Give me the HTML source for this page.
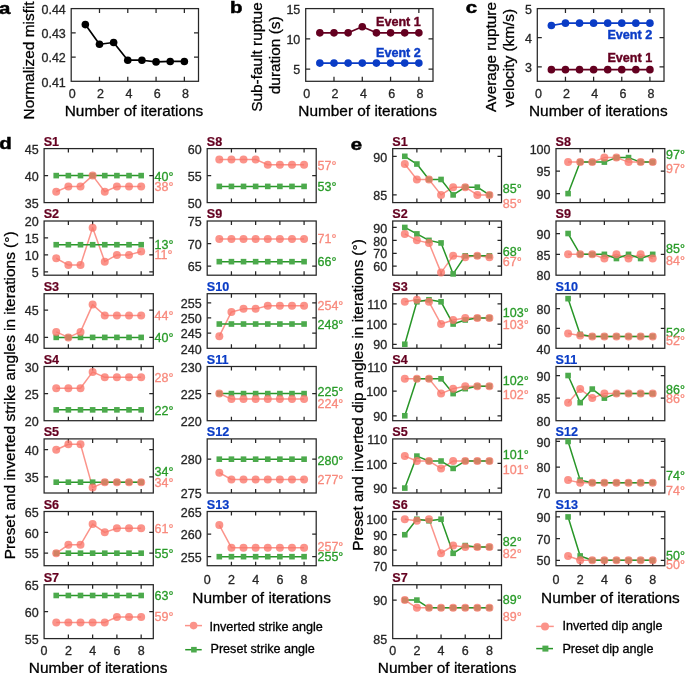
<!DOCTYPE html><html><head><meta charset="utf-8"><style>html,body{margin:0;padding:0;background:#fff;overflow:hidden}svg{display:block;will-change:transform}</style></head><body>
<svg width="685" height="673" viewBox="0 0 685 673" font-family='"Liberation Sans", sans-serif'>
<rect width="685" height="673" fill="#fff"/>
<text transform="translate(-1.1 13.75) scale(1.2 1)" x="0" y="0" font-size="17" font-weight="bold" fill="#000" stroke="#000" stroke-width="0.5">a</text>
<path d="M99.49 81.3V76.8M99.49 8.6V13.1M127.78 81.3V76.8M127.78 8.6V13.1M156.07 81.3V76.8M156.07 8.6V13.1M184.36 81.3V76.8M184.36 8.6V13.1M71.2 57.07H75.7M198.5 57.07H194M71.2 32.83H75.7M198.5 32.83H194" stroke="#262626" stroke-width="1.25" fill="none"/>
<rect x="71.2" y="8.6" width="127.3" height="72.7" stroke="#262626" stroke-width="1.25" fill="none"/>
<text x="65.8" y="86.6" font-size="12.5" text-anchor="end" fill="#262626" stroke="#262626" stroke-width="0.3">0.41</text>
<text x="65.8" y="62.37" font-size="12.5" text-anchor="end" fill="#262626" stroke="#262626" stroke-width="0.3">0.42</text>
<text x="65.8" y="38.13" font-size="12.5" text-anchor="end" fill="#262626" stroke="#262626" stroke-width="0.3">0.43</text>
<text x="65.8" y="13.9" font-size="12.5" text-anchor="end" fill="#262626" stroke="#262626" stroke-width="0.3">0.44</text>
<text x="72.3" y="97.9" font-size="12.5" text-anchor="middle" fill="#262626" stroke="#262626" stroke-width="0.3">0</text>
<text x="100.59" y="97.9" font-size="12.5" text-anchor="middle" fill="#262626" stroke="#262626" stroke-width="0.3">2</text>
<text x="128.88" y="97.9" font-size="12.5" text-anchor="middle" fill="#262626" stroke="#262626" stroke-width="0.3">4</text>
<text x="157.17" y="97.9" font-size="12.5" text-anchor="middle" fill="#262626" stroke="#262626" stroke-width="0.3">6</text>
<text x="185.46" y="97.9" font-size="12.5" text-anchor="middle" fill="#262626" stroke="#262626" stroke-width="0.3">8</text>
<g>
<polyline points="85.34,24.59 99.49,44.22 113.63,42.53 127.78,60.22 141.92,60.22 156.07,61.91 170.21,61.43 184.36,61.43" stroke="#000" stroke-width="1.7" fill="none" stroke-linejoin="round"/>
<circle cx="85.34" cy="24.59" r="3.8" fill="#000"/>
<circle cx="99.49" cy="44.22" r="3.8" fill="#000"/>
<circle cx="113.63" cy="42.53" r="3.8" fill="#000"/>
<circle cx="127.78" cy="60.22" r="3.8" fill="#000"/>
<circle cx="141.92" cy="60.22" r="3.8" fill="#000"/>
<circle cx="156.07" cy="61.91" r="3.8" fill="#000"/>
<circle cx="170.21" cy="61.43" r="3.8" fill="#000"/>
<circle cx="184.36" cy="61.43" r="3.8" fill="#000"/>
</g>
<text x="134" y="115.5" font-size="15.4" text-anchor="middle" fill="#000" stroke="#000" stroke-width="0.3">Number of iterations</text>
<text x="33.8" y="60.4" font-size="15.4" text-anchor="middle" fill="#000" stroke="#000" stroke-width="0.3" transform="rotate(-90 33.8 60.4)">Normalized misfit</text>
<text transform="translate(230.1 12.95) scale(1.2 1)" x="0" y="0" font-size="17" font-weight="bold" fill="#000" stroke="#000" stroke-width="0.5">b</text>
<path d="M333.99 81.3V76.8M333.99 8.6V13.1M362.28 81.3V76.8M362.28 8.6V13.1M390.57 81.3V76.8M390.57 8.6V13.1M418.86 81.3V76.8M418.86 8.6V13.1M305.7 69.18H310.2M433 69.18H428.5M305.7 38.89H310.2M433 38.89H428.5" stroke="#262626" stroke-width="1.25" fill="none"/>
<rect x="305.7" y="8.6" width="127.3" height="72.7" stroke="#262626" stroke-width="1.25" fill="none"/>
<text x="300.3" y="74.48" font-size="12.5" text-anchor="end" fill="#262626" stroke="#262626" stroke-width="0.3">5</text>
<text x="300.3" y="44.19" font-size="12.5" text-anchor="end" fill="#262626" stroke="#262626" stroke-width="0.3">10</text>
<text x="300.3" y="13.9" font-size="12.5" text-anchor="end" fill="#262626" stroke="#262626" stroke-width="0.3">15</text>
<text x="306.8" y="97.9" font-size="12.5" text-anchor="middle" fill="#262626" stroke="#262626" stroke-width="0.3">0</text>
<text x="335.09" y="97.9" font-size="12.5" text-anchor="middle" fill="#262626" stroke="#262626" stroke-width="0.3">2</text>
<text x="363.38" y="97.9" font-size="12.5" text-anchor="middle" fill="#262626" stroke="#262626" stroke-width="0.3">4</text>
<text x="391.67" y="97.9" font-size="12.5" text-anchor="middle" fill="#262626" stroke="#262626" stroke-width="0.3">6</text>
<text x="419.96" y="97.9" font-size="12.5" text-anchor="middle" fill="#262626" stroke="#262626" stroke-width="0.3">8</text>
<g>
<polyline points="319.84,32.83 333.99,32.83 348.13,32.83 362.28,26.77 376.42,32.83 390.57,32.83 404.71,32.83 418.86,32.83" stroke="#640020" stroke-width="1.7" fill="none" stroke-linejoin="round"/>
<circle cx="319.84" cy="32.83" r="3.8" fill="#640020"/>
<circle cx="333.99" cy="32.83" r="3.8" fill="#640020"/>
<circle cx="348.13" cy="32.83" r="3.8" fill="#640020"/>
<circle cx="362.28" cy="26.77" r="3.8" fill="#640020"/>
<circle cx="376.42" cy="32.83" r="3.8" fill="#640020"/>
<circle cx="390.57" cy="32.83" r="3.8" fill="#640020"/>
<circle cx="404.71" cy="32.83" r="3.8" fill="#640020"/>
<circle cx="418.86" cy="32.83" r="3.8" fill="#640020"/>
</g>
<g>
<polyline points="319.84,63.12 333.99,63.12 348.13,63.12 362.28,63.12 376.42,63.12 390.57,63.12 404.71,63.12 418.86,63.12" stroke="#0a3cc6" stroke-width="1.7" fill="none" stroke-linejoin="round"/>
<circle cx="319.84" cy="63.12" r="3.8" fill="#0a3cc6"/>
<circle cx="333.99" cy="63.12" r="3.8" fill="#0a3cc6"/>
<circle cx="348.13" cy="63.12" r="3.8" fill="#0a3cc6"/>
<circle cx="362.28" cy="63.12" r="3.8" fill="#0a3cc6"/>
<circle cx="376.42" cy="63.12" r="3.8" fill="#0a3cc6"/>
<circle cx="390.57" cy="63.12" r="3.8" fill="#0a3cc6"/>
<circle cx="404.71" cy="63.12" r="3.8" fill="#0a3cc6"/>
<circle cx="418.86" cy="63.12" r="3.8" fill="#0a3cc6"/>
</g>
<text x="376" y="25.9" font-size="12.6" text-anchor="start" fill="#640020" font-weight="bold" stroke="#640020" stroke-width="0.4">Event 1</text>
<text x="376" y="56.8" font-size="12.6" text-anchor="start" fill="#0a3cc6" font-weight="bold" stroke="#0a3cc6" stroke-width="0.4">Event 2</text>
<text x="367.6" y="115.5" font-size="15.4" text-anchor="middle" fill="#000" stroke="#000" stroke-width="0.3">Number of iterations</text>
<text x="261.6" y="57" font-size="15.4" text-anchor="middle" fill="#000" stroke="#000" stroke-width="0.3" transform="rotate(-90 261.6 57)">Sub-fault ruptue</text>
<text x="279.6" y="55.3" font-size="15.4" text-anchor="middle" fill="#000" stroke="#000" stroke-width="0.3" transform="rotate(-90 279.6 55.3)">duration (s)</text>
<text transform="translate(465.8 12.95) scale(1.2 1)" x="0" y="0" font-size="17" font-weight="bold" fill="#000" stroke="#000" stroke-width="0.5">c</text>
<path d="M565.46 81.3V76.8M565.46 8.6V13.1M593.61 81.3V76.8M593.61 8.6V13.1M621.77 81.3V76.8M621.77 8.6V13.1M649.92 81.3V76.8M649.92 8.6V13.1M537.3 66.76H541.8M664 66.76H659.5M537.3 37.68H541.8M664 37.68H659.5" stroke="#262626" stroke-width="1.25" fill="none"/>
<rect x="537.3" y="8.6" width="126.7" height="72.7" stroke="#262626" stroke-width="1.25" fill="none"/>
<text x="531.9" y="72.06" font-size="12.5" text-anchor="end" fill="#262626" stroke="#262626" stroke-width="0.3">3</text>
<text x="531.9" y="42.98" font-size="12.5" text-anchor="end" fill="#262626" stroke="#262626" stroke-width="0.3">4</text>
<text x="531.9" y="13.9" font-size="12.5" text-anchor="end" fill="#262626" stroke="#262626" stroke-width="0.3">5</text>
<text x="538.4" y="97.9" font-size="12.5" text-anchor="middle" fill="#262626" stroke="#262626" stroke-width="0.3">0</text>
<text x="566.56" y="97.9" font-size="12.5" text-anchor="middle" fill="#262626" stroke="#262626" stroke-width="0.3">2</text>
<text x="594.71" y="97.9" font-size="12.5" text-anchor="middle" fill="#262626" stroke="#262626" stroke-width="0.3">4</text>
<text x="622.87" y="97.9" font-size="12.5" text-anchor="middle" fill="#262626" stroke="#262626" stroke-width="0.3">6</text>
<text x="651.02" y="97.9" font-size="12.5" text-anchor="middle" fill="#262626" stroke="#262626" stroke-width="0.3">8</text>
<g>
<polyline points="551.38,25.47 565.46,23.14 579.53,23.14 593.61,23.14 607.69,23.14 621.77,23.14 635.84,23.14 649.92,23.14" stroke="#0a3cc6" stroke-width="1.7" fill="none" stroke-linejoin="round"/>
<circle cx="551.38" cy="25.47" r="3.8" fill="#0a3cc6"/>
<circle cx="565.46" cy="23.14" r="3.8" fill="#0a3cc6"/>
<circle cx="579.53" cy="23.14" r="3.8" fill="#0a3cc6"/>
<circle cx="593.61" cy="23.14" r="3.8" fill="#0a3cc6"/>
<circle cx="607.69" cy="23.14" r="3.8" fill="#0a3cc6"/>
<circle cx="621.77" cy="23.14" r="3.8" fill="#0a3cc6"/>
<circle cx="635.84" cy="23.14" r="3.8" fill="#0a3cc6"/>
<circle cx="649.92" cy="23.14" r="3.8" fill="#0a3cc6"/>
</g>
<g>
<polyline points="551.38,69.67 565.46,69.67 579.53,69.67 593.61,69.67 607.69,69.67 621.77,69.67 635.84,69.67 649.92,69.67" stroke="#640020" stroke-width="1.7" fill="none" stroke-linejoin="round"/>
<circle cx="551.38" cy="69.67" r="3.8" fill="#640020"/>
<circle cx="565.46" cy="69.67" r="3.8" fill="#640020"/>
<circle cx="579.53" cy="69.67" r="3.8" fill="#640020"/>
<circle cx="593.61" cy="69.67" r="3.8" fill="#640020"/>
<circle cx="607.69" cy="69.67" r="3.8" fill="#640020"/>
<circle cx="621.77" cy="69.67" r="3.8" fill="#640020"/>
<circle cx="635.84" cy="69.67" r="3.8" fill="#640020"/>
<circle cx="649.92" cy="69.67" r="3.8" fill="#640020"/>
</g>
<text x="607.4" y="39.4" font-size="12.6" text-anchor="start" fill="#0a3cc6" font-weight="bold" stroke="#0a3cc6" stroke-width="0.4">Event 2</text>
<text x="607.4" y="62" font-size="12.6" text-anchor="start" fill="#640020" font-weight="bold" stroke="#640020" stroke-width="0.4">Event 1</text>
<text x="598.3" y="115.5" font-size="15.4" text-anchor="middle" fill="#000" stroke="#000" stroke-width="0.3">Number of iterations</text>
<text x="496.3" y="57" font-size="15.4" text-anchor="middle" fill="#000" stroke="#000" stroke-width="0.3" transform="rotate(-90 496.3 57)">Average rupture</text>
<text x="513.9" y="58" font-size="15.4" text-anchor="middle" fill="#000" stroke="#000" stroke-width="0.3" transform="rotate(-90 513.9 58)">velocity (km/s)</text>
<text transform="translate(-0.8 148.85) scale(1.2 1)" x="0" y="0" font-size="17" font-weight="bold" fill="#000" stroke="#000" stroke-width="0.5">d</text>
<text transform="translate(350.8 149.5) scale(1.2 1)" x="0" y="0" font-size="17" font-weight="bold" fill="#000" stroke="#000" stroke-width="0.5">e</text>
<text x="43.7" y="145.6" font-size="12.6" text-anchor="start" fill="#640020" font-weight="bold" stroke="#640020" stroke-width="0.2">S1</text>
<path d="M68.37 202.6V198.6M68.37 148.6V152.6M92.63 202.6V198.6M92.63 148.6V152.6M116.9 202.6V198.6M116.9 148.6V152.6M141.17 202.6V198.6M141.17 148.6V152.6M44.1 175.6H48.1M153.3 175.6H149.3" stroke="#262626" stroke-width="1.25" fill="none"/>
<rect x="44.1" y="148.6" width="109.2" height="54" stroke="#262626" stroke-width="1.25" fill="none"/>
<text x="38.6" y="207.8" font-size="12.5" text-anchor="end" fill="#262626" stroke="#262626" stroke-width="0.3">35</text>
<text x="38.6" y="180.8" font-size="12.5" text-anchor="end" fill="#262626" stroke="#262626" stroke-width="0.3">40</text>
<text x="38.6" y="153.8" font-size="12.5" text-anchor="end" fill="#262626" stroke="#262626" stroke-width="0.3">45</text>
<polyline points="56.23,191.8 68.37,186.4 80.5,186.4 92.63,175.6 104.77,191.8 116.9,186.4 129.03,186.4 141.17,186.4" stroke="rgb(250,118,106)" stroke-width="1.5" fill="none" stroke-linejoin="round" opacity="0.78"/>
<polyline points="56.23,175.6 68.37,175.6 80.5,175.6 92.63,175.6 104.77,175.6 116.9,175.6 129.03,175.6 141.17,175.6" stroke="rgb(40,150,40)" stroke-width="1.5" fill="none" stroke-linejoin="round"/>
<rect x="53.43" y="172.8" width="5.6" height="5.6" fill="rgb(76,170,76)"/>
<rect x="65.57" y="172.8" width="5.6" height="5.6" fill="rgb(76,170,76)"/>
<rect x="77.7" y="172.8" width="5.6" height="5.6" fill="rgb(76,170,76)"/>
<rect x="89.83" y="172.8" width="5.6" height="5.6" fill="rgb(76,170,76)"/>
<rect x="101.97" y="172.8" width="5.6" height="5.6" fill="rgb(76,170,76)"/>
<rect x="114.1" y="172.8" width="5.6" height="5.6" fill="rgb(76,170,76)"/>
<rect x="126.23" y="172.8" width="5.6" height="5.6" fill="rgb(76,170,76)"/>
<rect x="138.37" y="172.8" width="5.6" height="5.6" fill="rgb(76,170,76)"/>
<g opacity="0.78">
<circle cx="56.23" cy="191.8" r="4" fill="rgb(250,118,106)"/>
<circle cx="68.37" cy="186.4" r="4" fill="rgb(250,118,106)"/>
<circle cx="80.5" cy="186.4" r="4" fill="rgb(250,118,106)"/>
<circle cx="92.63" cy="175.6" r="4" fill="rgb(250,118,106)"/>
<circle cx="104.77" cy="191.8" r="4" fill="rgb(250,118,106)"/>
<circle cx="116.9" cy="186.4" r="4" fill="rgb(250,118,106)"/>
<circle cx="129.03" cy="186.4" r="4" fill="rgb(250,118,106)"/>
<circle cx="141.17" cy="186.4" r="4" fill="rgb(250,118,106)"/>
</g>
<text x="154.6" y="180.8" font-size="12.5" text-anchor="start" fill="rgb(40,155,40)" stroke="rgb(40,155,40)" stroke-width="0.3">40°</text>
<text x="154.6" y="191.3" font-size="12.5" text-anchor="start" fill="rgb(248,138,125)" stroke="rgb(248,138,125)" stroke-width="0.3">38°</text>
<text x="43.7" y="218" font-size="12.6" text-anchor="start" fill="#640020" font-weight="bold" stroke="#640020" stroke-width="0.2">S2</text>
<path d="M68.37 275.2V271.2M68.37 221V225M92.63 275.2V271.2M92.63 221V225M116.9 275.2V271.2M116.9 221V225M141.17 275.2V271.2M141.17 221V225M44.1 271.81H48.1M153.3 271.81H149.3M44.1 254.88H48.1M153.3 254.88H149.3M44.1 237.94H48.1M153.3 237.94H149.3" stroke="#262626" stroke-width="1.25" fill="none"/>
<rect x="44.1" y="221" width="109.2" height="54.2" stroke="#262626" stroke-width="1.25" fill="none"/>
<text x="38.6" y="277.01" font-size="12.5" text-anchor="end" fill="#262626" stroke="#262626" stroke-width="0.3">5</text>
<text x="38.6" y="260.07" font-size="12.5" text-anchor="end" fill="#262626" stroke="#262626" stroke-width="0.3">10</text>
<text x="38.6" y="243.14" font-size="12.5" text-anchor="end" fill="#262626" stroke="#262626" stroke-width="0.3">15</text>
<text x="38.6" y="226.2" font-size="12.5" text-anchor="end" fill="#262626" stroke="#262626" stroke-width="0.3">20</text>
<polyline points="56.23,258.26 68.37,265.04 80.5,265.04 92.63,227.78 104.77,261.65 116.9,254.88 129.03,254.88 141.17,251.49" stroke="rgb(250,118,106)" stroke-width="1.5" fill="none" stroke-linejoin="round" opacity="0.78"/>
<polyline points="56.23,244.71 68.37,244.71 80.5,244.71 92.63,244.71 104.77,244.71 116.9,244.71 129.03,244.71 141.17,244.71" stroke="rgb(40,150,40)" stroke-width="1.5" fill="none" stroke-linejoin="round"/>
<rect x="53.43" y="241.91" width="5.6" height="5.6" fill="rgb(76,170,76)"/>
<rect x="65.57" y="241.91" width="5.6" height="5.6" fill="rgb(76,170,76)"/>
<rect x="77.7" y="241.91" width="5.6" height="5.6" fill="rgb(76,170,76)"/>
<rect x="89.83" y="241.91" width="5.6" height="5.6" fill="rgb(76,170,76)"/>
<rect x="101.97" y="241.91" width="5.6" height="5.6" fill="rgb(76,170,76)"/>
<rect x="114.1" y="241.91" width="5.6" height="5.6" fill="rgb(76,170,76)"/>
<rect x="126.23" y="241.91" width="5.6" height="5.6" fill="rgb(76,170,76)"/>
<rect x="138.37" y="241.91" width="5.6" height="5.6" fill="rgb(76,170,76)"/>
<g opacity="0.78">
<circle cx="56.23" cy="258.26" r="4" fill="rgb(250,118,106)"/>
<circle cx="68.37" cy="265.04" r="4" fill="rgb(250,118,106)"/>
<circle cx="80.5" cy="265.04" r="4" fill="rgb(250,118,106)"/>
<circle cx="92.63" cy="227.78" r="4" fill="rgb(250,118,106)"/>
<circle cx="104.77" cy="261.65" r="4" fill="rgb(250,118,106)"/>
<circle cx="116.9" cy="254.88" r="4" fill="rgb(250,118,106)"/>
<circle cx="129.03" cy="254.88" r="4" fill="rgb(250,118,106)"/>
<circle cx="141.17" cy="251.49" r="4" fill="rgb(250,118,106)"/>
</g>
<text x="154.6" y="249.2" font-size="12.5" text-anchor="start" fill="rgb(40,155,40)" stroke="rgb(40,155,40)" stroke-width="0.3">13°</text>
<text x="154.6" y="258.6" font-size="12.5" text-anchor="start" fill="rgb(248,138,125)" stroke="rgb(248,138,125)" stroke-width="0.3">11°</text>
<text x="43.7" y="290.7" font-size="12.6" text-anchor="start" fill="#640020" font-weight="bold" stroke="#640020" stroke-width="0.2">S3</text>
<path d="M68.37 348.3V344.3M68.37 293.7V297.7M92.63 348.3V344.3M92.63 293.7V297.7M116.9 348.3V344.3M116.9 293.7V297.7M141.17 348.3V344.3M141.17 293.7V297.7M44.1 337.38H48.1M153.3 337.38H149.3M44.1 310.08H48.1M153.3 310.08H149.3" stroke="#262626" stroke-width="1.25" fill="none"/>
<rect x="44.1" y="293.7" width="109.2" height="54.6" stroke="#262626" stroke-width="1.25" fill="none"/>
<text x="38.6" y="342.58" font-size="12.5" text-anchor="end" fill="#262626" stroke="#262626" stroke-width="0.3">40</text>
<text x="38.6" y="315.28" font-size="12.5" text-anchor="end" fill="#262626" stroke="#262626" stroke-width="0.3">45</text>
<polyline points="56.23,331.92 68.37,337.38 80.5,331.92 92.63,304.62 104.77,315.54 116.9,315.54 129.03,315.54 141.17,315.54" stroke="rgb(250,118,106)" stroke-width="1.5" fill="none" stroke-linejoin="round" opacity="0.78"/>
<polyline points="56.23,337.38 68.37,337.38 80.5,337.38 92.63,337.38 104.77,337.38 116.9,337.38 129.03,337.38 141.17,337.38" stroke="rgb(40,150,40)" stroke-width="1.5" fill="none" stroke-linejoin="round"/>
<rect x="53.43" y="334.58" width="5.6" height="5.6" fill="rgb(76,170,76)"/>
<rect x="65.57" y="334.58" width="5.6" height="5.6" fill="rgb(76,170,76)"/>
<rect x="77.7" y="334.58" width="5.6" height="5.6" fill="rgb(76,170,76)"/>
<rect x="89.83" y="334.58" width="5.6" height="5.6" fill="rgb(76,170,76)"/>
<rect x="101.97" y="334.58" width="5.6" height="5.6" fill="rgb(76,170,76)"/>
<rect x="114.1" y="334.58" width="5.6" height="5.6" fill="rgb(76,170,76)"/>
<rect x="126.23" y="334.58" width="5.6" height="5.6" fill="rgb(76,170,76)"/>
<rect x="138.37" y="334.58" width="5.6" height="5.6" fill="rgb(76,170,76)"/>
<g opacity="0.78">
<circle cx="56.23" cy="331.92" r="4" fill="rgb(250,118,106)"/>
<circle cx="68.37" cy="337.38" r="4" fill="rgb(250,118,106)"/>
<circle cx="80.5" cy="331.92" r="4" fill="rgb(250,118,106)"/>
<circle cx="92.63" cy="304.62" r="4" fill="rgb(250,118,106)"/>
<circle cx="104.77" cy="315.54" r="4" fill="rgb(250,118,106)"/>
<circle cx="116.9" cy="315.54" r="4" fill="rgb(250,118,106)"/>
<circle cx="129.03" cy="315.54" r="4" fill="rgb(250,118,106)"/>
<circle cx="141.17" cy="315.54" r="4" fill="rgb(250,118,106)"/>
</g>
<text x="154.6" y="341.8" font-size="12.5" text-anchor="start" fill="rgb(40,155,40)" stroke="rgb(40,155,40)" stroke-width="0.3">40°</text>
<text x="154.6" y="320.2" font-size="12.5" text-anchor="start" fill="rgb(248,138,125)" stroke="rgb(248,138,125)" stroke-width="0.3">44°</text>
<text x="43.7" y="363.5" font-size="12.6" text-anchor="start" fill="#640020" font-weight="bold" stroke="#640020" stroke-width="0.2">S4</text>
<path d="M68.37 420.7V416.7M68.37 366.5V370.5M92.63 420.7V416.7M92.63 366.5V370.5M116.9 420.7V416.7M116.9 366.5V370.5M141.17 420.7V416.7M141.17 366.5V370.5M44.1 393.6H48.1M153.3 393.6H149.3" stroke="#262626" stroke-width="1.25" fill="none"/>
<rect x="44.1" y="366.5" width="109.2" height="54.2" stroke="#262626" stroke-width="1.25" fill="none"/>
<text x="38.6" y="425.9" font-size="12.5" text-anchor="end" fill="#262626" stroke="#262626" stroke-width="0.3">20</text>
<text x="38.6" y="398.8" font-size="12.5" text-anchor="end" fill="#262626" stroke="#262626" stroke-width="0.3">25</text>
<text x="38.6" y="371.7" font-size="12.5" text-anchor="end" fill="#262626" stroke="#262626" stroke-width="0.3">30</text>
<polyline points="56.23,388.18 68.37,388.18 80.5,388.18 92.63,371.92 104.77,377.34 116.9,377.34 129.03,377.34 141.17,377.34" stroke="rgb(250,118,106)" stroke-width="1.5" fill="none" stroke-linejoin="round" opacity="0.78"/>
<polyline points="56.23,409.86 68.37,409.86 80.5,409.86 92.63,409.86 104.77,409.86 116.9,409.86 129.03,409.86 141.17,409.86" stroke="rgb(40,150,40)" stroke-width="1.5" fill="none" stroke-linejoin="round"/>
<rect x="53.43" y="407.06" width="5.6" height="5.6" fill="rgb(76,170,76)"/>
<rect x="65.57" y="407.06" width="5.6" height="5.6" fill="rgb(76,170,76)"/>
<rect x="77.7" y="407.06" width="5.6" height="5.6" fill="rgb(76,170,76)"/>
<rect x="89.83" y="407.06" width="5.6" height="5.6" fill="rgb(76,170,76)"/>
<rect x="101.97" y="407.06" width="5.6" height="5.6" fill="rgb(76,170,76)"/>
<rect x="114.1" y="407.06" width="5.6" height="5.6" fill="rgb(76,170,76)"/>
<rect x="126.23" y="407.06" width="5.6" height="5.6" fill="rgb(76,170,76)"/>
<rect x="138.37" y="407.06" width="5.6" height="5.6" fill="rgb(76,170,76)"/>
<g opacity="0.78">
<circle cx="56.23" cy="388.18" r="4" fill="rgb(250,118,106)"/>
<circle cx="68.37" cy="388.18" r="4" fill="rgb(250,118,106)"/>
<circle cx="80.5" cy="388.18" r="4" fill="rgb(250,118,106)"/>
<circle cx="92.63" cy="371.92" r="4" fill="rgb(250,118,106)"/>
<circle cx="104.77" cy="377.34" r="4" fill="rgb(250,118,106)"/>
<circle cx="116.9" cy="377.34" r="4" fill="rgb(250,118,106)"/>
<circle cx="129.03" cy="377.34" r="4" fill="rgb(250,118,106)"/>
<circle cx="141.17" cy="377.34" r="4" fill="rgb(250,118,106)"/>
</g>
<text x="154.6" y="415.3" font-size="12.5" text-anchor="start" fill="rgb(40,155,40)" stroke="rgb(40,155,40)" stroke-width="0.3">22°</text>
<text x="154.6" y="382" font-size="12.5" text-anchor="start" fill="rgb(248,138,125)" stroke="rgb(248,138,125)" stroke-width="0.3">28°</text>
<text x="43.7" y="435.9" font-size="12.6" text-anchor="start" fill="#640020" font-weight="bold" stroke="#640020" stroke-width="0.2">S5</text>
<path d="M68.37 493V489M68.37 438.9V442.9M92.63 493V489M92.63 438.9V442.9M116.9 493V489M116.9 438.9V442.9M141.17 493V489M141.17 438.9V442.9M44.1 476.77H48.1M153.3 476.77H149.3M44.1 449.72H48.1M153.3 449.72H149.3" stroke="#262626" stroke-width="1.25" fill="none"/>
<rect x="44.1" y="438.9" width="109.2" height="54.1" stroke="#262626" stroke-width="1.25" fill="none"/>
<text x="38.6" y="481.97" font-size="12.5" text-anchor="end" fill="#262626" stroke="#262626" stroke-width="0.3">35</text>
<text x="38.6" y="454.92" font-size="12.5" text-anchor="end" fill="#262626" stroke="#262626" stroke-width="0.3">40</text>
<polyline points="56.23,449.72 68.37,444.31 80.5,444.31 92.63,487.59 104.77,482.18 116.9,482.18 129.03,482.18 141.17,482.18" stroke="rgb(250,118,106)" stroke-width="1.5" fill="none" stroke-linejoin="round" opacity="0.78"/>
<polyline points="56.23,482.18 68.37,482.18 80.5,482.18 92.63,482.18 104.77,482.18 116.9,482.18 129.03,482.18 141.17,482.18" stroke="rgb(40,150,40)" stroke-width="1.5" fill="none" stroke-linejoin="round"/>
<rect x="53.43" y="479.38" width="5.6" height="5.6" fill="rgb(76,170,76)"/>
<rect x="65.57" y="479.38" width="5.6" height="5.6" fill="rgb(76,170,76)"/>
<rect x="77.7" y="479.38" width="5.6" height="5.6" fill="rgb(76,170,76)"/>
<rect x="89.83" y="479.38" width="5.6" height="5.6" fill="rgb(76,170,76)"/>
<rect x="101.97" y="479.38" width="5.6" height="5.6" fill="rgb(76,170,76)"/>
<rect x="114.1" y="479.38" width="5.6" height="5.6" fill="rgb(76,170,76)"/>
<rect x="126.23" y="479.38" width="5.6" height="5.6" fill="rgb(76,170,76)"/>
<rect x="138.37" y="479.38" width="5.6" height="5.6" fill="rgb(76,170,76)"/>
<g opacity="0.78">
<circle cx="56.23" cy="449.72" r="4" fill="rgb(250,118,106)"/>
<circle cx="68.37" cy="444.31" r="4" fill="rgb(250,118,106)"/>
<circle cx="80.5" cy="444.31" r="4" fill="rgb(250,118,106)"/>
<circle cx="92.63" cy="487.59" r="4" fill="rgb(250,118,106)"/>
<circle cx="104.77" cy="482.18" r="4" fill="rgb(250,118,106)"/>
<circle cx="116.9" cy="482.18" r="4" fill="rgb(250,118,106)"/>
<circle cx="129.03" cy="482.18" r="4" fill="rgb(250,118,106)"/>
<circle cx="141.17" cy="482.18" r="4" fill="rgb(250,118,106)"/>
</g>
<text x="154.6" y="475.7" font-size="12.5" text-anchor="start" fill="rgb(40,155,40)" stroke="rgb(40,155,40)" stroke-width="0.3">34°</text>
<text x="154.6" y="486.8" font-size="12.5" text-anchor="start" fill="rgb(248,138,125)" stroke="rgb(248,138,125)" stroke-width="0.3">34°</text>
<text x="43.7" y="508.5" font-size="12.6" text-anchor="start" fill="#640020" font-weight="bold" stroke="#640020" stroke-width="0.2">S6</text>
<path d="M68.37 565.7V561.7M68.37 511.5V515.5M92.63 565.7V561.7M92.63 511.5V515.5M116.9 565.7V561.7M116.9 511.5V515.5M141.17 565.7V561.7M141.17 511.5V515.5M44.1 553.19H48.1M153.3 553.19H149.3M44.1 532.35H48.1M153.3 532.35H149.3" stroke="#262626" stroke-width="1.25" fill="none"/>
<rect x="44.1" y="511.5" width="109.2" height="54.2" stroke="#262626" stroke-width="1.25" fill="none"/>
<text x="38.6" y="558.39" font-size="12.5" text-anchor="end" fill="#262626" stroke="#262626" stroke-width="0.3">55</text>
<text x="38.6" y="537.55" font-size="12.5" text-anchor="end" fill="#262626" stroke="#262626" stroke-width="0.3">60</text>
<text x="38.6" y="516.7" font-size="12.5" text-anchor="end" fill="#262626" stroke="#262626" stroke-width="0.3">65</text>
<polyline points="56.23,553.19 68.37,544.85 80.5,544.85 92.63,524.01 104.77,532.35 116.9,528.18 129.03,528.18 141.17,528.18" stroke="rgb(250,118,106)" stroke-width="1.5" fill="none" stroke-linejoin="round" opacity="0.78"/>
<polyline points="56.23,553.19 68.37,553.19 80.5,553.19 92.63,553.19 104.77,553.19 116.9,553.19 129.03,553.19 141.17,553.19" stroke="rgb(40,150,40)" stroke-width="1.5" fill="none" stroke-linejoin="round"/>
<rect x="53.43" y="550.39" width="5.6" height="5.6" fill="rgb(76,170,76)"/>
<rect x="65.57" y="550.39" width="5.6" height="5.6" fill="rgb(76,170,76)"/>
<rect x="77.7" y="550.39" width="5.6" height="5.6" fill="rgb(76,170,76)"/>
<rect x="89.83" y="550.39" width="5.6" height="5.6" fill="rgb(76,170,76)"/>
<rect x="101.97" y="550.39" width="5.6" height="5.6" fill="rgb(76,170,76)"/>
<rect x="114.1" y="550.39" width="5.6" height="5.6" fill="rgb(76,170,76)"/>
<rect x="126.23" y="550.39" width="5.6" height="5.6" fill="rgb(76,170,76)"/>
<rect x="138.37" y="550.39" width="5.6" height="5.6" fill="rgb(76,170,76)"/>
<g opacity="0.78">
<circle cx="56.23" cy="553.19" r="4" fill="rgb(250,118,106)"/>
<circle cx="68.37" cy="544.85" r="4" fill="rgb(250,118,106)"/>
<circle cx="80.5" cy="544.85" r="4" fill="rgb(250,118,106)"/>
<circle cx="92.63" cy="524.01" r="4" fill="rgb(250,118,106)"/>
<circle cx="104.77" cy="532.35" r="4" fill="rgb(250,118,106)"/>
<circle cx="116.9" cy="528.18" r="4" fill="rgb(250,118,106)"/>
<circle cx="129.03" cy="528.18" r="4" fill="rgb(250,118,106)"/>
<circle cx="141.17" cy="528.18" r="4" fill="rgb(250,118,106)"/>
</g>
<text x="154.6" y="558.1" font-size="12.5" text-anchor="start" fill="rgb(40,155,40)" stroke="rgb(40,155,40)" stroke-width="0.3">55°</text>
<text x="154.6" y="532.6" font-size="12.5" text-anchor="start" fill="rgb(248,138,125)" stroke="rgb(248,138,125)" stroke-width="0.3">61°</text>
<text x="43.7" y="581.7" font-size="12.6" text-anchor="start" fill="#640020" font-weight="bold" stroke="#640020" stroke-width="0.2">S7</text>
<path d="M68.37 638.6V634.6M68.37 584.7V588.7M92.63 638.6V634.6M92.63 584.7V588.7M116.9 638.6V634.6M116.9 584.7V588.7M141.17 638.6V634.6M141.17 584.7V588.7M44.1 611.65H48.1M153.3 611.65H149.3" stroke="#262626" stroke-width="1.25" fill="none"/>
<rect x="44.1" y="584.7" width="109.2" height="53.9" stroke="#262626" stroke-width="1.25" fill="none"/>
<text x="38.6" y="643.8" font-size="12.5" text-anchor="end" fill="#262626" stroke="#262626" stroke-width="0.3">55</text>
<text x="38.6" y="616.85" font-size="12.5" text-anchor="end" fill="#262626" stroke="#262626" stroke-width="0.3">60</text>
<text x="38.6" y="589.9" font-size="12.5" text-anchor="end" fill="#262626" stroke="#262626" stroke-width="0.3">65</text>
<text x="44.1" y="654.5" font-size="12.5" text-anchor="middle" fill="#262626" stroke="#262626" stroke-width="0.3">0</text>
<text x="68.37" y="654.5" font-size="12.5" text-anchor="middle" fill="#262626" stroke="#262626" stroke-width="0.3">2</text>
<text x="92.63" y="654.5" font-size="12.5" text-anchor="middle" fill="#262626" stroke="#262626" stroke-width="0.3">4</text>
<text x="116.9" y="654.5" font-size="12.5" text-anchor="middle" fill="#262626" stroke="#262626" stroke-width="0.3">6</text>
<text x="141.17" y="654.5" font-size="12.5" text-anchor="middle" fill="#262626" stroke="#262626" stroke-width="0.3">8</text>
<polyline points="56.23,622.43 68.37,622.43 80.5,622.43 92.63,622.43 104.77,622.43 116.9,617.04 129.03,617.04 141.17,617.04" stroke="rgb(250,118,106)" stroke-width="1.5" fill="none" stroke-linejoin="round" opacity="0.78"/>
<polyline points="56.23,595.48 68.37,595.48 80.5,595.48 92.63,595.48 104.77,595.48 116.9,595.48 129.03,595.48 141.17,595.48" stroke="rgb(40,150,40)" stroke-width="1.5" fill="none" stroke-linejoin="round"/>
<rect x="53.43" y="592.68" width="5.6" height="5.6" fill="rgb(76,170,76)"/>
<rect x="65.57" y="592.68" width="5.6" height="5.6" fill="rgb(76,170,76)"/>
<rect x="77.7" y="592.68" width="5.6" height="5.6" fill="rgb(76,170,76)"/>
<rect x="89.83" y="592.68" width="5.6" height="5.6" fill="rgb(76,170,76)"/>
<rect x="101.97" y="592.68" width="5.6" height="5.6" fill="rgb(76,170,76)"/>
<rect x="114.1" y="592.68" width="5.6" height="5.6" fill="rgb(76,170,76)"/>
<rect x="126.23" y="592.68" width="5.6" height="5.6" fill="rgb(76,170,76)"/>
<rect x="138.37" y="592.68" width="5.6" height="5.6" fill="rgb(76,170,76)"/>
<g opacity="0.78">
<circle cx="56.23" cy="622.43" r="4" fill="rgb(250,118,106)"/>
<circle cx="68.37" cy="622.43" r="4" fill="rgb(250,118,106)"/>
<circle cx="80.5" cy="622.43" r="4" fill="rgb(250,118,106)"/>
<circle cx="92.63" cy="622.43" r="4" fill="rgb(250,118,106)"/>
<circle cx="104.77" cy="622.43" r="4" fill="rgb(250,118,106)"/>
<circle cx="116.9" cy="617.04" r="4" fill="rgb(250,118,106)"/>
<circle cx="129.03" cy="617.04" r="4" fill="rgb(250,118,106)"/>
<circle cx="141.17" cy="617.04" r="4" fill="rgb(250,118,106)"/>
</g>
<text x="154.6" y="599.6" font-size="12.5" text-anchor="start" fill="rgb(40,155,40)" stroke="rgb(40,155,40)" stroke-width="0.3">63°</text>
<text x="154.6" y="621" font-size="12.5" text-anchor="start" fill="rgb(248,138,125)" stroke="rgb(248,138,125)" stroke-width="0.3">59°</text>
<text x="98.1" y="672.5" font-size="15.4" text-anchor="middle" fill="#000" stroke="#000" stroke-width="0.3">Number of iterations</text>
<text x="15.4" y="395.4" font-size="15.4" text-anchor="middle" fill="#000" stroke="#000" stroke-width="0.3" transform="rotate(-90 15.4 395.4)">Preset and inverted strike angles in iterations (°)</text>
<text x="206.8" y="145.6" font-size="12.6" text-anchor="start" fill="#640020" font-weight="bold" stroke="#640020" stroke-width="0.2">S8</text>
<path d="M231.42 202.6V198.6M231.42 148.6V152.6M255.64 202.6V198.6M255.64 148.6V152.6M279.87 202.6V198.6M279.87 148.6V152.6M304.09 202.6V198.6M304.09 148.6V152.6M207.2 175.6H211.2M316.2 175.6H312.2" stroke="#262626" stroke-width="1.25" fill="none"/>
<rect x="207.2" y="148.6" width="109" height="54" stroke="#262626" stroke-width="1.25" fill="none"/>
<text x="201.7" y="207.8" font-size="12.5" text-anchor="end" fill="#262626" stroke="#262626" stroke-width="0.3">50</text>
<text x="201.7" y="180.8" font-size="12.5" text-anchor="end" fill="#262626" stroke="#262626" stroke-width="0.3">55</text>
<text x="201.7" y="153.8" font-size="12.5" text-anchor="end" fill="#262626" stroke="#262626" stroke-width="0.3">60</text>
<polyline points="219.31,159.4 231.42,159.4 243.53,159.4 255.64,159.4 267.76,164.8 279.87,164.8 291.98,164.8 304.09,164.8" stroke="rgb(250,118,106)" stroke-width="1.5" fill="none" stroke-linejoin="round" opacity="0.78"/>
<polyline points="219.31,186.4 231.42,186.4 243.53,186.4 255.64,186.4 267.76,186.4 279.87,186.4 291.98,186.4 304.09,186.4" stroke="rgb(40,150,40)" stroke-width="1.5" fill="none" stroke-linejoin="round"/>
<rect x="216.51" y="183.6" width="5.6" height="5.6" fill="rgb(76,170,76)"/>
<rect x="228.62" y="183.6" width="5.6" height="5.6" fill="rgb(76,170,76)"/>
<rect x="240.73" y="183.6" width="5.6" height="5.6" fill="rgb(76,170,76)"/>
<rect x="252.84" y="183.6" width="5.6" height="5.6" fill="rgb(76,170,76)"/>
<rect x="264.96" y="183.6" width="5.6" height="5.6" fill="rgb(76,170,76)"/>
<rect x="277.07" y="183.6" width="5.6" height="5.6" fill="rgb(76,170,76)"/>
<rect x="289.18" y="183.6" width="5.6" height="5.6" fill="rgb(76,170,76)"/>
<rect x="301.29" y="183.6" width="5.6" height="5.6" fill="rgb(76,170,76)"/>
<g opacity="0.78">
<circle cx="219.31" cy="159.4" r="4" fill="rgb(250,118,106)"/>
<circle cx="231.42" cy="159.4" r="4" fill="rgb(250,118,106)"/>
<circle cx="243.53" cy="159.4" r="4" fill="rgb(250,118,106)"/>
<circle cx="255.64" cy="159.4" r="4" fill="rgb(250,118,106)"/>
<circle cx="267.76" cy="164.8" r="4" fill="rgb(250,118,106)"/>
<circle cx="279.87" cy="164.8" r="4" fill="rgb(250,118,106)"/>
<circle cx="291.98" cy="164.8" r="4" fill="rgb(250,118,106)"/>
<circle cx="304.09" cy="164.8" r="4" fill="rgb(250,118,106)"/>
</g>
<text x="317.5" y="191" font-size="12.5" text-anchor="start" fill="rgb(40,155,40)" stroke="rgb(40,155,40)" stroke-width="0.3">53°</text>
<text x="317.5" y="169.6" font-size="12.5" text-anchor="start" fill="rgb(248,138,125)" stroke="rgb(248,138,125)" stroke-width="0.3">57°</text>
<text x="206.8" y="218" font-size="12.6" text-anchor="start" fill="#640020" font-weight="bold" stroke="#640020" stroke-width="0.2">S9</text>
<path d="M231.42 275.2V271.2M231.42 221V225M255.64 275.2V271.2M255.64 221V225M279.87 275.2V271.2M279.87 221V225M304.09 275.2V271.2M304.09 221V225M207.2 266.17H211.2M316.2 266.17H312.2M207.2 243.58H211.2M316.2 243.58H312.2" stroke="#262626" stroke-width="1.25" fill="none"/>
<rect x="207.2" y="221" width="109" height="54.2" stroke="#262626" stroke-width="1.25" fill="none"/>
<text x="201.7" y="271.37" font-size="12.5" text-anchor="end" fill="#262626" stroke="#262626" stroke-width="0.3">65</text>
<text x="201.7" y="248.78" font-size="12.5" text-anchor="end" fill="#262626" stroke="#262626" stroke-width="0.3">70</text>
<text x="201.7" y="226.2" font-size="12.5" text-anchor="end" fill="#262626" stroke="#262626" stroke-width="0.3">75</text>
<polyline points="219.31,239.07 231.42,239.07 243.53,239.07 255.64,239.07 267.76,239.07 279.87,239.07 291.98,239.07 304.09,239.07" stroke="rgb(250,118,106)" stroke-width="1.5" fill="none" stroke-linejoin="round" opacity="0.78"/>
<polyline points="219.31,261.65 231.42,261.65 243.53,261.65 255.64,261.65 267.76,261.65 279.87,261.65 291.98,261.65 304.09,261.65" stroke="rgb(40,150,40)" stroke-width="1.5" fill="none" stroke-linejoin="round"/>
<rect x="216.51" y="258.85" width="5.6" height="5.6" fill="rgb(76,170,76)"/>
<rect x="228.62" y="258.85" width="5.6" height="5.6" fill="rgb(76,170,76)"/>
<rect x="240.73" y="258.85" width="5.6" height="5.6" fill="rgb(76,170,76)"/>
<rect x="252.84" y="258.85" width="5.6" height="5.6" fill="rgb(76,170,76)"/>
<rect x="264.96" y="258.85" width="5.6" height="5.6" fill="rgb(76,170,76)"/>
<rect x="277.07" y="258.85" width="5.6" height="5.6" fill="rgb(76,170,76)"/>
<rect x="289.18" y="258.85" width="5.6" height="5.6" fill="rgb(76,170,76)"/>
<rect x="301.29" y="258.85" width="5.6" height="5.6" fill="rgb(76,170,76)"/>
<g opacity="0.78">
<circle cx="219.31" cy="239.07" r="4" fill="rgb(250,118,106)"/>
<circle cx="231.42" cy="239.07" r="4" fill="rgb(250,118,106)"/>
<circle cx="243.53" cy="239.07" r="4" fill="rgb(250,118,106)"/>
<circle cx="255.64" cy="239.07" r="4" fill="rgb(250,118,106)"/>
<circle cx="267.76" cy="239.07" r="4" fill="rgb(250,118,106)"/>
<circle cx="279.87" cy="239.07" r="4" fill="rgb(250,118,106)"/>
<circle cx="291.98" cy="239.07" r="4" fill="rgb(250,118,106)"/>
<circle cx="304.09" cy="239.07" r="4" fill="rgb(250,118,106)"/>
</g>
<text x="317.5" y="265.9" font-size="12.5" text-anchor="start" fill="rgb(40,155,40)" stroke="rgb(40,155,40)" stroke-width="0.3">66°</text>
<text x="317.5" y="243.1" font-size="12.5" text-anchor="start" fill="rgb(248,138,125)" stroke="rgb(248,138,125)" stroke-width="0.3">71°</text>
<text x="206.8" y="290.7" font-size="12.6" text-anchor="start" fill="#0a3cc6" font-weight="bold" stroke="#0a3cc6" stroke-width="0.2">S10</text>
<path d="M231.42 348.3V344.3M231.42 293.7V297.7M255.64 348.3V344.3M255.64 293.7V297.7M279.87 348.3V344.3M279.87 293.7V297.7M304.09 348.3V344.3M304.09 293.7V297.7M207.2 333.13H211.2M316.2 333.13H312.2M207.2 317.97H211.2M316.2 317.97H312.2M207.2 302.8H211.2M316.2 302.8H312.2" stroke="#262626" stroke-width="1.25" fill="none"/>
<rect x="207.2" y="293.7" width="109" height="54.6" stroke="#262626" stroke-width="1.25" fill="none"/>
<text x="201.7" y="353.5" font-size="12.5" text-anchor="end" fill="#262626" stroke="#262626" stroke-width="0.3">240</text>
<text x="201.7" y="338.33" font-size="12.5" text-anchor="end" fill="#262626" stroke="#262626" stroke-width="0.3">245</text>
<text x="201.7" y="323.17" font-size="12.5" text-anchor="end" fill="#262626" stroke="#262626" stroke-width="0.3">250</text>
<text x="201.7" y="308" font-size="12.5" text-anchor="end" fill="#262626" stroke="#262626" stroke-width="0.3">255</text>
<polyline points="219.31,336.17 231.42,311.9 243.53,308.87 255.64,308.87 267.76,305.83 279.87,305.83 291.98,305.83 304.09,305.83" stroke="rgb(250,118,106)" stroke-width="1.5" fill="none" stroke-linejoin="round" opacity="0.78"/>
<polyline points="219.31,324.03 231.42,324.03 243.53,324.03 255.64,324.03 267.76,324.03 279.87,324.03 291.98,324.03 304.09,324.03" stroke="rgb(40,150,40)" stroke-width="1.5" fill="none" stroke-linejoin="round"/>
<rect x="216.51" y="321.23" width="5.6" height="5.6" fill="rgb(76,170,76)"/>
<rect x="228.62" y="321.23" width="5.6" height="5.6" fill="rgb(76,170,76)"/>
<rect x="240.73" y="321.23" width="5.6" height="5.6" fill="rgb(76,170,76)"/>
<rect x="252.84" y="321.23" width="5.6" height="5.6" fill="rgb(76,170,76)"/>
<rect x="264.96" y="321.23" width="5.6" height="5.6" fill="rgb(76,170,76)"/>
<rect x="277.07" y="321.23" width="5.6" height="5.6" fill="rgb(76,170,76)"/>
<rect x="289.18" y="321.23" width="5.6" height="5.6" fill="rgb(76,170,76)"/>
<rect x="301.29" y="321.23" width="5.6" height="5.6" fill="rgb(76,170,76)"/>
<g opacity="0.78">
<circle cx="219.31" cy="336.17" r="4" fill="rgb(250,118,106)"/>
<circle cx="231.42" cy="311.9" r="4" fill="rgb(250,118,106)"/>
<circle cx="243.53" cy="308.87" r="4" fill="rgb(250,118,106)"/>
<circle cx="255.64" cy="308.87" r="4" fill="rgb(250,118,106)"/>
<circle cx="267.76" cy="305.83" r="4" fill="rgb(250,118,106)"/>
<circle cx="279.87" cy="305.83" r="4" fill="rgb(250,118,106)"/>
<circle cx="291.98" cy="305.83" r="4" fill="rgb(250,118,106)"/>
<circle cx="304.09" cy="305.83" r="4" fill="rgb(250,118,106)"/>
</g>
<text x="317.5" y="329" font-size="12.5" text-anchor="start" fill="rgb(40,155,40)" stroke="rgb(40,155,40)" stroke-width="0.3">248°</text>
<text x="317.5" y="309.9" font-size="12.5" text-anchor="start" fill="rgb(248,138,125)" stroke="rgb(248,138,125)" stroke-width="0.3">254°</text>
<text x="206.8" y="363.5" font-size="12.6" text-anchor="start" fill="#0a3cc6" font-weight="bold" stroke="#0a3cc6" stroke-width="0.2">S11</text>
<path d="M231.42 420.7V416.7M231.42 366.5V370.5M255.64 420.7V416.7M255.64 366.5V370.5M279.87 420.7V416.7M279.87 366.5V370.5M304.09 420.7V416.7M304.09 366.5V370.5M207.2 393.6H211.2M316.2 393.6H312.2" stroke="#262626" stroke-width="1.25" fill="none"/>
<rect x="207.2" y="366.5" width="109" height="54.2" stroke="#262626" stroke-width="1.25" fill="none"/>
<text x="201.7" y="425.9" font-size="12.5" text-anchor="end" fill="#262626" stroke="#262626" stroke-width="0.3">220</text>
<text x="201.7" y="398.8" font-size="12.5" text-anchor="end" fill="#262626" stroke="#262626" stroke-width="0.3">225</text>
<text x="201.7" y="371.7" font-size="12.5" text-anchor="end" fill="#262626" stroke="#262626" stroke-width="0.3">230</text>
<polyline points="219.31,393.6 231.42,399.02 243.53,399.02 255.64,399.02 267.76,399.02 279.87,399.02 291.98,399.02 304.09,399.02" stroke="rgb(250,118,106)" stroke-width="1.5" fill="none" stroke-linejoin="round" opacity="0.78"/>
<polyline points="219.31,393.6 231.42,393.6 243.53,393.6 255.64,393.6 267.76,393.6 279.87,393.6 291.98,393.6 304.09,393.6" stroke="rgb(40,150,40)" stroke-width="1.5" fill="none" stroke-linejoin="round"/>
<rect x="216.51" y="390.8" width="5.6" height="5.6" fill="rgb(76,170,76)"/>
<rect x="228.62" y="390.8" width="5.6" height="5.6" fill="rgb(76,170,76)"/>
<rect x="240.73" y="390.8" width="5.6" height="5.6" fill="rgb(76,170,76)"/>
<rect x="252.84" y="390.8" width="5.6" height="5.6" fill="rgb(76,170,76)"/>
<rect x="264.96" y="390.8" width="5.6" height="5.6" fill="rgb(76,170,76)"/>
<rect x="277.07" y="390.8" width="5.6" height="5.6" fill="rgb(76,170,76)"/>
<rect x="289.18" y="390.8" width="5.6" height="5.6" fill="rgb(76,170,76)"/>
<rect x="301.29" y="390.8" width="5.6" height="5.6" fill="rgb(76,170,76)"/>
<g opacity="0.78">
<circle cx="219.31" cy="393.6" r="4" fill="rgb(250,118,106)"/>
<circle cx="231.42" cy="399.02" r="4" fill="rgb(250,118,106)"/>
<circle cx="243.53" cy="399.02" r="4" fill="rgb(250,118,106)"/>
<circle cx="255.64" cy="399.02" r="4" fill="rgb(250,118,106)"/>
<circle cx="267.76" cy="399.02" r="4" fill="rgb(250,118,106)"/>
<circle cx="279.87" cy="399.02" r="4" fill="rgb(250,118,106)"/>
<circle cx="291.98" cy="399.02" r="4" fill="rgb(250,118,106)"/>
<circle cx="304.09" cy="399.02" r="4" fill="rgb(250,118,106)"/>
</g>
<text x="317.5" y="396.4" font-size="12.5" text-anchor="start" fill="rgb(40,155,40)" stroke="rgb(40,155,40)" stroke-width="0.3">225°</text>
<text x="317.5" y="408.1" font-size="12.5" text-anchor="start" fill="rgb(248,138,125)" stroke="rgb(248,138,125)" stroke-width="0.3">224°</text>
<text x="206.8" y="435.9" font-size="12.6" text-anchor="start" fill="#0a3cc6" font-weight="bold" stroke="#0a3cc6" stroke-width="0.2">S12</text>
<path d="M231.42 493V489M231.42 438.9V442.9M255.64 493V489M255.64 438.9V442.9M279.87 493V489M279.87 438.9V442.9M304.09 493V489M304.09 438.9V442.9M207.2 459.19H211.2M316.2 459.19H312.2" stroke="#262626" stroke-width="1.25" fill="none"/>
<rect x="207.2" y="438.9" width="109" height="54.1" stroke="#262626" stroke-width="1.25" fill="none"/>
<text x="201.7" y="498.2" font-size="12.5" text-anchor="end" fill="#262626" stroke="#262626" stroke-width="0.3">275</text>
<text x="201.7" y="464.39" font-size="12.5" text-anchor="end" fill="#262626" stroke="#262626" stroke-width="0.3">280</text>
<polyline points="219.31,472.71 231.42,479.48 243.53,479.48 255.64,479.48 267.76,479.48 279.87,479.48 291.98,479.48 304.09,479.48" stroke="rgb(250,118,106)" stroke-width="1.5" fill="none" stroke-linejoin="round" opacity="0.78"/>
<polyline points="219.31,459.19 231.42,459.19 243.53,459.19 255.64,459.19 267.76,459.19 279.87,459.19 291.98,459.19 304.09,459.19" stroke="rgb(40,150,40)" stroke-width="1.5" fill="none" stroke-linejoin="round"/>
<rect x="216.51" y="456.39" width="5.6" height="5.6" fill="rgb(76,170,76)"/>
<rect x="228.62" y="456.39" width="5.6" height="5.6" fill="rgb(76,170,76)"/>
<rect x="240.73" y="456.39" width="5.6" height="5.6" fill="rgb(76,170,76)"/>
<rect x="252.84" y="456.39" width="5.6" height="5.6" fill="rgb(76,170,76)"/>
<rect x="264.96" y="456.39" width="5.6" height="5.6" fill="rgb(76,170,76)"/>
<rect x="277.07" y="456.39" width="5.6" height="5.6" fill="rgb(76,170,76)"/>
<rect x="289.18" y="456.39" width="5.6" height="5.6" fill="rgb(76,170,76)"/>
<rect x="301.29" y="456.39" width="5.6" height="5.6" fill="rgb(76,170,76)"/>
<g opacity="0.78">
<circle cx="219.31" cy="472.71" r="4" fill="rgb(250,118,106)"/>
<circle cx="231.42" cy="479.48" r="4" fill="rgb(250,118,106)"/>
<circle cx="243.53" cy="479.48" r="4" fill="rgb(250,118,106)"/>
<circle cx="255.64" cy="479.48" r="4" fill="rgb(250,118,106)"/>
<circle cx="267.76" cy="479.48" r="4" fill="rgb(250,118,106)"/>
<circle cx="279.87" cy="479.48" r="4" fill="rgb(250,118,106)"/>
<circle cx="291.98" cy="479.48" r="4" fill="rgb(250,118,106)"/>
<circle cx="304.09" cy="479.48" r="4" fill="rgb(250,118,106)"/>
</g>
<text x="317.5" y="464.6" font-size="12.5" text-anchor="start" fill="rgb(40,155,40)" stroke="rgb(40,155,40)" stroke-width="0.3">280°</text>
<text x="317.5" y="483.5" font-size="12.5" text-anchor="start" fill="rgb(248,138,125)" stroke="rgb(248,138,125)" stroke-width="0.3">277°</text>
<text x="206.8" y="508.5" font-size="12.6" text-anchor="start" fill="#0a3cc6" font-weight="bold" stroke="#0a3cc6" stroke-width="0.2">S13</text>
<path d="M231.42 565.7V561.7M231.42 511.5V515.5M255.64 565.7V561.7M255.64 511.5V515.5M279.87 565.7V561.7M279.87 511.5V515.5M304.09 565.7V561.7M304.09 511.5V515.5M207.2 556.67H211.2M316.2 556.67H312.2M207.2 534.08H211.2M316.2 534.08H312.2" stroke="#262626" stroke-width="1.25" fill="none"/>
<rect x="207.2" y="511.5" width="109" height="54.2" stroke="#262626" stroke-width="1.25" fill="none"/>
<text x="201.7" y="561.87" font-size="12.5" text-anchor="end" fill="#262626" stroke="#262626" stroke-width="0.3">255</text>
<text x="201.7" y="539.28" font-size="12.5" text-anchor="end" fill="#262626" stroke="#262626" stroke-width="0.3">260</text>
<text x="201.7" y="516.7" font-size="12.5" text-anchor="end" fill="#262626" stroke="#262626" stroke-width="0.3">265</text>
<text x="207.2" y="583.8" font-size="12.5" text-anchor="middle" fill="#262626" stroke="#262626" stroke-width="0.3">0</text>
<text x="231.42" y="583.8" font-size="12.5" text-anchor="middle" fill="#262626" stroke="#262626" stroke-width="0.3">2</text>
<text x="255.64" y="583.8" font-size="12.5" text-anchor="middle" fill="#262626" stroke="#262626" stroke-width="0.3">4</text>
<text x="279.87" y="583.8" font-size="12.5" text-anchor="middle" fill="#262626" stroke="#262626" stroke-width="0.3">6</text>
<text x="304.09" y="583.8" font-size="12.5" text-anchor="middle" fill="#262626" stroke="#262626" stroke-width="0.3">8</text>
<polyline points="219.31,525.05 231.42,547.63 243.53,547.63 255.64,547.63 267.76,547.63 279.87,547.63 291.98,547.63 304.09,547.63" stroke="rgb(250,118,106)" stroke-width="1.5" fill="none" stroke-linejoin="round" opacity="0.78"/>
<polyline points="219.31,556.67 231.42,556.67 243.53,556.67 255.64,556.67 267.76,556.67 279.87,556.67 291.98,556.67 304.09,556.67" stroke="rgb(40,150,40)" stroke-width="1.5" fill="none" stroke-linejoin="round"/>
<rect x="216.51" y="553.87" width="5.6" height="5.6" fill="rgb(76,170,76)"/>
<rect x="228.62" y="553.87" width="5.6" height="5.6" fill="rgb(76,170,76)"/>
<rect x="240.73" y="553.87" width="5.6" height="5.6" fill="rgb(76,170,76)"/>
<rect x="252.84" y="553.87" width="5.6" height="5.6" fill="rgb(76,170,76)"/>
<rect x="264.96" y="553.87" width="5.6" height="5.6" fill="rgb(76,170,76)"/>
<rect x="277.07" y="553.87" width="5.6" height="5.6" fill="rgb(76,170,76)"/>
<rect x="289.18" y="553.87" width="5.6" height="5.6" fill="rgb(76,170,76)"/>
<rect x="301.29" y="553.87" width="5.6" height="5.6" fill="rgb(76,170,76)"/>
<g opacity="0.78">
<circle cx="219.31" cy="525.05" r="4" fill="rgb(250,118,106)"/>
<circle cx="231.42" cy="547.63" r="4" fill="rgb(250,118,106)"/>
<circle cx="243.53" cy="547.63" r="4" fill="rgb(250,118,106)"/>
<circle cx="255.64" cy="547.63" r="4" fill="rgb(250,118,106)"/>
<circle cx="267.76" cy="547.63" r="4" fill="rgb(250,118,106)"/>
<circle cx="279.87" cy="547.63" r="4" fill="rgb(250,118,106)"/>
<circle cx="291.98" cy="547.63" r="4" fill="rgb(250,118,106)"/>
<circle cx="304.09" cy="547.63" r="4" fill="rgb(250,118,106)"/>
</g>
<text x="317.5" y="560.9" font-size="12.5" text-anchor="start" fill="rgb(40,155,40)" stroke="rgb(40,155,40)" stroke-width="0.3">255°</text>
<text x="317.5" y="550.6" font-size="12.5" text-anchor="start" fill="rgb(248,138,125)" stroke="rgb(248,138,125)" stroke-width="0.3">257°</text>
<text x="261.6" y="603" font-size="15.4" text-anchor="middle" fill="#000" stroke="#000" stroke-width="0.3">Number of iterations</text>
<g opacity="0.78"><line x1="185.0" y1="625.6" x2="202.0" y2="625.6" stroke="rgb(250,118,106)" stroke-width="1.5"/>
<circle cx="193.6" cy="625.6" r="3.8" fill="rgb(250,118,106)"/></g>
<line x1="185.2" y1="649.7" x2="201.7" y2="649.7" stroke="rgb(40,150,40)" stroke-width="1.5"/>
<rect x="191.1" y="646.9" width="5.6" height="5.6" fill="rgb(76,170,76)"/>
<text x="209.4" y="630.6" font-size="12.6" text-anchor="start" fill="#000" stroke="#000" stroke-width="0.3">Inverted strike angle</text>
<text x="210.5" y="652.5" font-size="12.6" text-anchor="start" fill="#000" stroke="#000" stroke-width="0.3">Preset strike angle</text>
<text x="392.3" y="145.6" font-size="12.6" text-anchor="start" fill="#640020" font-weight="bold" stroke="#640020" stroke-width="0.2">S1</text>
<path d="M416.88 202.6V198.6M416.88 148.6V152.6M441.06 202.6V198.6M441.06 148.6V152.6M465.23 202.6V198.6M465.23 148.6V152.6M489.41 202.6V198.6M489.41 148.6V152.6M392.7 194.89H396.7M501.5 194.89H497.5M392.7 156.31H396.7M501.5 156.31H497.5" stroke="#262626" stroke-width="1.25" fill="none"/>
<rect x="392.7" y="148.6" width="108.8" height="54" stroke="#262626" stroke-width="1.25" fill="none"/>
<text x="387.2" y="200.09" font-size="12.5" text-anchor="end" fill="#262626" stroke="#262626" stroke-width="0.3">85</text>
<text x="387.2" y="161.51" font-size="12.5" text-anchor="end" fill="#262626" stroke="#262626" stroke-width="0.3">90</text>
<polyline points="404.79,164.03 416.88,179.46 428.97,179.46 441.06,194.89 453.14,187.17 465.23,187.17 477.32,194.89 489.41,194.89" stroke="rgb(250,118,106)" stroke-width="1.5" fill="none" stroke-linejoin="round" opacity="0.78"/>
<polyline points="404.79,156.31 416.88,164.03 428.97,179.46 441.06,179.46 453.14,194.89 465.23,187.17 477.32,187.17 489.41,194.89" stroke="rgb(40,150,40)" stroke-width="1.5" fill="none" stroke-linejoin="round"/>
<rect x="401.99" y="153.51" width="5.6" height="5.6" fill="rgb(76,170,76)"/>
<rect x="414.08" y="161.23" width="5.6" height="5.6" fill="rgb(76,170,76)"/>
<rect x="426.17" y="176.66" width="5.6" height="5.6" fill="rgb(76,170,76)"/>
<rect x="438.26" y="176.66" width="5.6" height="5.6" fill="rgb(76,170,76)"/>
<rect x="450.34" y="192.09" width="5.6" height="5.6" fill="rgb(76,170,76)"/>
<rect x="462.43" y="184.37" width="5.6" height="5.6" fill="rgb(76,170,76)"/>
<rect x="474.52" y="184.37" width="5.6" height="5.6" fill="rgb(76,170,76)"/>
<rect x="486.61" y="192.09" width="5.6" height="5.6" fill="rgb(76,170,76)"/>
<g opacity="0.78">
<circle cx="404.79" cy="164.03" r="4" fill="rgb(250,118,106)"/>
<circle cx="416.88" cy="179.46" r="4" fill="rgb(250,118,106)"/>
<circle cx="428.97" cy="179.46" r="4" fill="rgb(250,118,106)"/>
<circle cx="441.06" cy="194.89" r="4" fill="rgb(250,118,106)"/>
<circle cx="453.14" cy="187.17" r="4" fill="rgb(250,118,106)"/>
<circle cx="465.23" cy="187.17" r="4" fill="rgb(250,118,106)"/>
<circle cx="477.32" cy="194.89" r="4" fill="rgb(250,118,106)"/>
<circle cx="489.41" cy="194.89" r="4" fill="rgb(250,118,106)"/>
</g>
<text x="502.8" y="192.6" font-size="12.5" text-anchor="start" fill="rgb(40,155,40)" stroke="rgb(40,155,40)" stroke-width="0.3">85°</text>
<text x="502.8" y="207.9" font-size="12.5" text-anchor="start" fill="rgb(248,138,125)" stroke="rgb(248,138,125)" stroke-width="0.3">85°</text>
<text x="392.3" y="218" font-size="12.6" text-anchor="start" fill="#640020" font-weight="bold" stroke="#640020" stroke-width="0.2">S2</text>
<path d="M416.88 275.2V271.2M416.88 221V225M441.06 275.2V271.2M441.06 221V225M465.23 275.2V271.2M465.23 221V225M489.41 275.2V271.2M489.41 221V225M392.7 266.17H396.7M501.5 266.17H497.5M392.7 253.26H396.7M501.5 253.26H497.5M392.7 240.36H396.7M501.5 240.36H497.5M392.7 227.45H396.7M501.5 227.45H497.5" stroke="#262626" stroke-width="1.25" fill="none"/>
<rect x="392.7" y="221" width="108.8" height="54.2" stroke="#262626" stroke-width="1.25" fill="none"/>
<text x="387.2" y="271.37" font-size="12.5" text-anchor="end" fill="#262626" stroke="#262626" stroke-width="0.3">60</text>
<text x="387.2" y="258.46" font-size="12.5" text-anchor="end" fill="#262626" stroke="#262626" stroke-width="0.3">70</text>
<text x="387.2" y="245.56" font-size="12.5" text-anchor="end" fill="#262626" stroke="#262626" stroke-width="0.3">80</text>
<text x="387.2" y="232.65" font-size="12.5" text-anchor="end" fill="#262626" stroke="#262626" stroke-width="0.3">90</text>
<polyline points="404.79,233.9 416.88,240.36 428.97,242.94 441.06,272.62 453.14,255.84 465.23,257.13 477.32,255.84 489.41,257.13" stroke="rgb(250,118,106)" stroke-width="1.5" fill="none" stroke-linejoin="round" opacity="0.78"/>
<polyline points="404.79,227.45 416.88,233.9 428.97,240.36 441.06,242.94 453.14,273.91 465.23,255.84 477.32,255.84 489.41,255.84" stroke="rgb(40,150,40)" stroke-width="1.5" fill="none" stroke-linejoin="round"/>
<rect x="401.99" y="224.65" width="5.6" height="5.6" fill="rgb(76,170,76)"/>
<rect x="414.08" y="231.1" width="5.6" height="5.6" fill="rgb(76,170,76)"/>
<rect x="426.17" y="237.56" width="5.6" height="5.6" fill="rgb(76,170,76)"/>
<rect x="438.26" y="240.14" width="5.6" height="5.6" fill="rgb(76,170,76)"/>
<rect x="450.34" y="271.11" width="5.6" height="5.6" fill="rgb(76,170,76)"/>
<rect x="462.43" y="253.04" width="5.6" height="5.6" fill="rgb(76,170,76)"/>
<rect x="474.52" y="253.04" width="5.6" height="5.6" fill="rgb(76,170,76)"/>
<rect x="486.61" y="253.04" width="5.6" height="5.6" fill="rgb(76,170,76)"/>
<g opacity="0.78">
<circle cx="404.79" cy="233.9" r="4" fill="rgb(250,118,106)"/>
<circle cx="416.88" cy="240.36" r="4" fill="rgb(250,118,106)"/>
<circle cx="428.97" cy="242.94" r="4" fill="rgb(250,118,106)"/>
<circle cx="441.06" cy="272.62" r="4" fill="rgb(250,118,106)"/>
<circle cx="453.14" cy="255.84" r="4" fill="rgb(250,118,106)"/>
<circle cx="465.23" cy="257.13" r="4" fill="rgb(250,118,106)"/>
<circle cx="477.32" cy="255.84" r="4" fill="rgb(250,118,106)"/>
<circle cx="489.41" cy="257.13" r="4" fill="rgb(250,118,106)"/>
</g>
<text x="502.8" y="255.6" font-size="12.5" text-anchor="start" fill="rgb(40,155,40)" stroke="rgb(40,155,40)" stroke-width="0.3">68°</text>
<text x="502.8" y="265.9" font-size="12.5" text-anchor="start" fill="rgb(248,138,125)" stroke="rgb(248,138,125)" stroke-width="0.3">67°</text>
<text x="392.3" y="290.7" font-size="12.6" text-anchor="start" fill="#640020" font-weight="bold" stroke="#640020" stroke-width="0.2">S3</text>
<path d="M416.88 348.3V344.3M416.88 293.7V297.7M441.06 348.3V344.3M441.06 293.7V297.7M465.23 348.3V344.3M465.23 293.7V297.7M489.41 348.3V344.3M489.41 293.7V297.7M392.7 344.26H396.7M501.5 344.26H497.5M392.7 324.03H396.7M501.5 324.03H497.5M392.7 303.81H396.7M501.5 303.81H497.5" stroke="#262626" stroke-width="1.25" fill="none"/>
<rect x="392.7" y="293.7" width="108.8" height="54.6" stroke="#262626" stroke-width="1.25" fill="none"/>
<text x="387.2" y="349.46" font-size="12.5" text-anchor="end" fill="#262626" stroke="#262626" stroke-width="0.3">90</text>
<text x="387.2" y="329.23" font-size="12.5" text-anchor="end" fill="#262626" stroke="#262626" stroke-width="0.3">100</text>
<text x="387.2" y="309.01" font-size="12.5" text-anchor="end" fill="#262626" stroke="#262626" stroke-width="0.3">110</text>
<polyline points="404.79,301.79 416.88,299.77 428.97,301.79 441.06,324.03 453.14,319.99 465.23,317.97 477.32,317.97 489.41,317.97" stroke="rgb(250,118,106)" stroke-width="1.5" fill="none" stroke-linejoin="round" opacity="0.78"/>
<polyline points="404.79,344.26 416.88,301.79 428.97,299.77 441.06,301.79 453.14,324.03 465.23,319.99 477.32,317.97 489.41,317.97" stroke="rgb(40,150,40)" stroke-width="1.5" fill="none" stroke-linejoin="round"/>
<rect x="401.99" y="341.46" width="5.6" height="5.6" fill="rgb(76,170,76)"/>
<rect x="414.08" y="298.99" width="5.6" height="5.6" fill="rgb(76,170,76)"/>
<rect x="426.17" y="296.97" width="5.6" height="5.6" fill="rgb(76,170,76)"/>
<rect x="438.26" y="298.99" width="5.6" height="5.6" fill="rgb(76,170,76)"/>
<rect x="450.34" y="321.23" width="5.6" height="5.6" fill="rgb(76,170,76)"/>
<rect x="462.43" y="317.19" width="5.6" height="5.6" fill="rgb(76,170,76)"/>
<rect x="474.52" y="315.17" width="5.6" height="5.6" fill="rgb(76,170,76)"/>
<rect x="486.61" y="315.17" width="5.6" height="5.6" fill="rgb(76,170,76)"/>
<g opacity="0.78">
<circle cx="404.79" cy="301.79" r="4" fill="rgb(250,118,106)"/>
<circle cx="416.88" cy="299.77" r="4" fill="rgb(250,118,106)"/>
<circle cx="428.97" cy="301.79" r="4" fill="rgb(250,118,106)"/>
<circle cx="441.06" cy="324.03" r="4" fill="rgb(250,118,106)"/>
<circle cx="453.14" cy="319.99" r="4" fill="rgb(250,118,106)"/>
<circle cx="465.23" cy="317.97" r="4" fill="rgb(250,118,106)"/>
<circle cx="477.32" cy="317.97" r="4" fill="rgb(250,118,106)"/>
<circle cx="489.41" cy="317.97" r="4" fill="rgb(250,118,106)"/>
</g>
<text x="502.8" y="316.8" font-size="12.5" text-anchor="start" fill="rgb(40,155,40)" stroke="rgb(40,155,40)" stroke-width="0.3">103°</text>
<text x="502.8" y="329" font-size="12.5" text-anchor="start" fill="rgb(248,138,125)" stroke="rgb(248,138,125)" stroke-width="0.3">103°</text>
<text x="392.3" y="363.5" font-size="12.6" text-anchor="start" fill="#640020" font-weight="bold" stroke="#640020" stroke-width="0.2">S4</text>
<path d="M416.88 420.7V416.7M416.88 366.5V370.5M441.06 420.7V416.7M441.06 366.5V370.5M465.23 420.7V416.7M465.23 366.5V370.5M489.41 420.7V416.7M489.41 366.5V370.5M392.7 415.77H396.7M501.5 415.77H497.5M392.7 391.14H396.7M501.5 391.14H497.5" stroke="#262626" stroke-width="1.25" fill="none"/>
<rect x="392.7" y="366.5" width="108.8" height="54.2" stroke="#262626" stroke-width="1.25" fill="none"/>
<text x="387.2" y="420.97" font-size="12.5" text-anchor="end" fill="#262626" stroke="#262626" stroke-width="0.3">90</text>
<text x="387.2" y="396.34" font-size="12.5" text-anchor="end" fill="#262626" stroke="#262626" stroke-width="0.3">100</text>
<text x="387.2" y="371.7" font-size="12.5" text-anchor="end" fill="#262626" stroke="#262626" stroke-width="0.3">110</text>
<polyline points="404.79,378.82 416.88,378.82 428.97,378.82 441.06,393.6 453.14,388.67 465.23,386.21 477.32,386.21 489.41,386.21" stroke="rgb(250,118,106)" stroke-width="1.5" fill="none" stroke-linejoin="round" opacity="0.78"/>
<polyline points="404.79,415.77 416.88,378.82 428.97,378.82 441.06,378.82 453.14,393.6 465.23,388.67 477.32,386.21 489.41,386.21" stroke="rgb(40,150,40)" stroke-width="1.5" fill="none" stroke-linejoin="round"/>
<rect x="401.99" y="412.97" width="5.6" height="5.6" fill="rgb(76,170,76)"/>
<rect x="414.08" y="376.02" width="5.6" height="5.6" fill="rgb(76,170,76)"/>
<rect x="426.17" y="376.02" width="5.6" height="5.6" fill="rgb(76,170,76)"/>
<rect x="438.26" y="376.02" width="5.6" height="5.6" fill="rgb(76,170,76)"/>
<rect x="450.34" y="390.8" width="5.6" height="5.6" fill="rgb(76,170,76)"/>
<rect x="462.43" y="385.87" width="5.6" height="5.6" fill="rgb(76,170,76)"/>
<rect x="474.52" y="383.41" width="5.6" height="5.6" fill="rgb(76,170,76)"/>
<rect x="486.61" y="383.41" width="5.6" height="5.6" fill="rgb(76,170,76)"/>
<g opacity="0.78">
<circle cx="404.79" cy="378.82" r="4" fill="rgb(250,118,106)"/>
<circle cx="416.88" cy="378.82" r="4" fill="rgb(250,118,106)"/>
<circle cx="428.97" cy="378.82" r="4" fill="rgb(250,118,106)"/>
<circle cx="441.06" cy="393.6" r="4" fill="rgb(250,118,106)"/>
<circle cx="453.14" cy="388.67" r="4" fill="rgb(250,118,106)"/>
<circle cx="465.23" cy="386.21" r="4" fill="rgb(250,118,106)"/>
<circle cx="477.32" cy="386.21" r="4" fill="rgb(250,118,106)"/>
<circle cx="489.41" cy="386.21" r="4" fill="rgb(250,118,106)"/>
</g>
<text x="502.8" y="384.5" font-size="12.5" text-anchor="start" fill="rgb(40,155,40)" stroke="rgb(40,155,40)" stroke-width="0.3">102°</text>
<text x="502.8" y="398.7" font-size="12.5" text-anchor="start" fill="rgb(248,138,125)" stroke="rgb(248,138,125)" stroke-width="0.3">102°</text>
<text x="392.3" y="435.9" font-size="12.6" text-anchor="start" fill="#640020" font-weight="bold" stroke="#640020" stroke-width="0.2">S5</text>
<path d="M416.88 493V489M416.88 438.9V442.9M441.06 493V489M441.06 438.9V442.9M465.23 493V489M465.23 438.9V442.9M489.41 493V489M489.41 438.9V442.9M392.7 488.08H396.7M501.5 488.08H497.5M392.7 463.49H396.7M501.5 463.49H497.5" stroke="#262626" stroke-width="1.25" fill="none"/>
<rect x="392.7" y="438.9" width="108.8" height="54.1" stroke="#262626" stroke-width="1.25" fill="none"/>
<text x="387.2" y="493.28" font-size="12.5" text-anchor="end" fill="#262626" stroke="#262626" stroke-width="0.3">90</text>
<text x="387.2" y="468.69" font-size="12.5" text-anchor="end" fill="#262626" stroke="#262626" stroke-width="0.3">100</text>
<text x="387.2" y="444.1" font-size="12.5" text-anchor="end" fill="#262626" stroke="#262626" stroke-width="0.3">110</text>
<polyline points="404.79,456.11 416.88,461.03 428.97,461.03 441.06,468.41 453.14,461.03 465.23,461.03 477.32,461.03 489.41,461.03" stroke="rgb(250,118,106)" stroke-width="1.5" fill="none" stroke-linejoin="round" opacity="0.78"/>
<polyline points="404.79,488.08 416.88,456.11 428.97,461.03 441.06,461.03 453.14,468.41 465.23,461.03 477.32,461.03 489.41,461.03" stroke="rgb(40,150,40)" stroke-width="1.5" fill="none" stroke-linejoin="round"/>
<rect x="401.99" y="485.28" width="5.6" height="5.6" fill="rgb(76,170,76)"/>
<rect x="414.08" y="453.31" width="5.6" height="5.6" fill="rgb(76,170,76)"/>
<rect x="426.17" y="458.23" width="5.6" height="5.6" fill="rgb(76,170,76)"/>
<rect x="438.26" y="458.23" width="5.6" height="5.6" fill="rgb(76,170,76)"/>
<rect x="450.34" y="465.61" width="5.6" height="5.6" fill="rgb(76,170,76)"/>
<rect x="462.43" y="458.23" width="5.6" height="5.6" fill="rgb(76,170,76)"/>
<rect x="474.52" y="458.23" width="5.6" height="5.6" fill="rgb(76,170,76)"/>
<rect x="486.61" y="458.23" width="5.6" height="5.6" fill="rgb(76,170,76)"/>
<g opacity="0.78">
<circle cx="404.79" cy="456.11" r="4" fill="rgb(250,118,106)"/>
<circle cx="416.88" cy="461.03" r="4" fill="rgb(250,118,106)"/>
<circle cx="428.97" cy="461.03" r="4" fill="rgb(250,118,106)"/>
<circle cx="441.06" cy="468.41" r="4" fill="rgb(250,118,106)"/>
<circle cx="453.14" cy="461.03" r="4" fill="rgb(250,118,106)"/>
<circle cx="465.23" cy="461.03" r="4" fill="rgb(250,118,106)"/>
<circle cx="477.32" cy="461.03" r="4" fill="rgb(250,118,106)"/>
<circle cx="489.41" cy="461.03" r="4" fill="rgb(250,118,106)"/>
</g>
<text x="502.8" y="459.1" font-size="12.5" text-anchor="start" fill="rgb(40,155,40)" stroke="rgb(40,155,40)" stroke-width="0.3">101°</text>
<text x="502.8" y="473.8" font-size="12.5" text-anchor="start" fill="rgb(248,138,125)" stroke="rgb(248,138,125)" stroke-width="0.3">101°</text>
<text x="392.3" y="508.5" font-size="12.6" text-anchor="start" fill="#640020" font-weight="bold" stroke="#640020" stroke-width="0.2">S6</text>
<path d="M416.88 565.7V561.7M416.88 511.5V515.5M441.06 565.7V561.7M441.06 511.5V515.5M465.23 565.7V561.7M465.23 511.5V515.5M489.41 565.7V561.7M489.41 511.5V515.5M392.7 550.21H396.7M501.5 550.21H497.5M392.7 534.73H396.7M501.5 534.73H497.5M392.7 519.24H396.7M501.5 519.24H497.5" stroke="#262626" stroke-width="1.25" fill="none"/>
<rect x="392.7" y="511.5" width="108.8" height="54.2" stroke="#262626" stroke-width="1.25" fill="none"/>
<text x="387.2" y="570.9" font-size="12.5" text-anchor="end" fill="#262626" stroke="#262626" stroke-width="0.3">70</text>
<text x="387.2" y="555.41" font-size="12.5" text-anchor="end" fill="#262626" stroke="#262626" stroke-width="0.3">80</text>
<text x="387.2" y="539.93" font-size="12.5" text-anchor="end" fill="#262626" stroke="#262626" stroke-width="0.3">90</text>
<text x="387.2" y="524.44" font-size="12.5" text-anchor="end" fill="#262626" stroke="#262626" stroke-width="0.3">100</text>
<polyline points="404.79,519.24 416.88,520.79 428.97,519.24 441.06,553.31 453.14,545.57 465.23,547.12 477.32,547.12 489.41,547.12" stroke="rgb(250,118,106)" stroke-width="1.5" fill="none" stroke-linejoin="round" opacity="0.78"/>
<polyline points="404.79,534.73 416.88,519.24 428.97,520.79 441.06,519.24 453.14,553.31 465.23,545.57 477.32,547.12 489.41,547.12" stroke="rgb(40,150,40)" stroke-width="1.5" fill="none" stroke-linejoin="round"/>
<rect x="401.99" y="531.93" width="5.6" height="5.6" fill="rgb(76,170,76)"/>
<rect x="414.08" y="516.44" width="5.6" height="5.6" fill="rgb(76,170,76)"/>
<rect x="426.17" y="517.99" width="5.6" height="5.6" fill="rgb(76,170,76)"/>
<rect x="438.26" y="516.44" width="5.6" height="5.6" fill="rgb(76,170,76)"/>
<rect x="450.34" y="550.51" width="5.6" height="5.6" fill="rgb(76,170,76)"/>
<rect x="462.43" y="542.77" width="5.6" height="5.6" fill="rgb(76,170,76)"/>
<rect x="474.52" y="544.32" width="5.6" height="5.6" fill="rgb(76,170,76)"/>
<rect x="486.61" y="544.32" width="5.6" height="5.6" fill="rgb(76,170,76)"/>
<g opacity="0.78">
<circle cx="404.79" cy="519.24" r="4" fill="rgb(250,118,106)"/>
<circle cx="416.88" cy="520.79" r="4" fill="rgb(250,118,106)"/>
<circle cx="428.97" cy="519.24" r="4" fill="rgb(250,118,106)"/>
<circle cx="441.06" cy="553.31" r="4" fill="rgb(250,118,106)"/>
<circle cx="453.14" cy="545.57" r="4" fill="rgb(250,118,106)"/>
<circle cx="465.23" cy="547.12" r="4" fill="rgb(250,118,106)"/>
<circle cx="477.32" cy="547.12" r="4" fill="rgb(250,118,106)"/>
<circle cx="489.41" cy="547.12" r="4" fill="rgb(250,118,106)"/>
</g>
<text x="502.8" y="545.6" font-size="12.5" text-anchor="start" fill="rgb(40,155,40)" stroke="rgb(40,155,40)" stroke-width="0.3">82°</text>
<text x="502.8" y="558.1" font-size="12.5" text-anchor="start" fill="rgb(248,138,125)" stroke="rgb(248,138,125)" stroke-width="0.3">82°</text>
<text x="392.3" y="581.7" font-size="12.6" text-anchor="start" fill="#640020" font-weight="bold" stroke="#640020" stroke-width="0.2">S7</text>
<path d="M416.88 638.6V634.6M416.88 584.7V588.7M441.06 638.6V634.6M441.06 584.7V588.7M465.23 638.6V634.6M465.23 584.7V588.7M489.41 638.6V634.6M489.41 584.7V588.7M392.7 600.1H396.7M501.5 600.1H497.5" stroke="#262626" stroke-width="1.25" fill="none"/>
<rect x="392.7" y="584.7" width="108.8" height="53.9" stroke="#262626" stroke-width="1.25" fill="none"/>
<text x="387.2" y="643.8" font-size="12.5" text-anchor="end" fill="#262626" stroke="#262626" stroke-width="0.3">85</text>
<text x="387.2" y="605.3" font-size="12.5" text-anchor="end" fill="#262626" stroke="#262626" stroke-width="0.3">90</text>
<text x="392.7" y="654.5" font-size="12.5" text-anchor="middle" fill="#262626" stroke="#262626" stroke-width="0.3">0</text>
<text x="416.88" y="654.5" font-size="12.5" text-anchor="middle" fill="#262626" stroke="#262626" stroke-width="0.3">2</text>
<text x="441.06" y="654.5" font-size="12.5" text-anchor="middle" fill="#262626" stroke="#262626" stroke-width="0.3">4</text>
<text x="465.23" y="654.5" font-size="12.5" text-anchor="middle" fill="#262626" stroke="#262626" stroke-width="0.3">6</text>
<text x="489.41" y="654.5" font-size="12.5" text-anchor="middle" fill="#262626" stroke="#262626" stroke-width="0.3">8</text>
<polyline points="404.79,600.1 416.88,607.8 428.97,607.8 441.06,607.8 453.14,607.8 465.23,607.8 477.32,607.8 489.41,607.8" stroke="rgb(250,118,106)" stroke-width="1.5" fill="none" stroke-linejoin="round" opacity="0.78"/>
<polyline points="404.79,600.1 416.88,600.1 428.97,607.8 441.06,607.8 453.14,607.8 465.23,607.8 477.32,607.8 489.41,607.8" stroke="rgb(40,150,40)" stroke-width="1.5" fill="none" stroke-linejoin="round"/>
<rect x="401.99" y="597.3" width="5.6" height="5.6" fill="rgb(76,170,76)"/>
<rect x="414.08" y="597.3" width="5.6" height="5.6" fill="rgb(76,170,76)"/>
<rect x="426.17" y="605" width="5.6" height="5.6" fill="rgb(76,170,76)"/>
<rect x="438.26" y="605" width="5.6" height="5.6" fill="rgb(76,170,76)"/>
<rect x="450.34" y="605" width="5.6" height="5.6" fill="rgb(76,170,76)"/>
<rect x="462.43" y="605" width="5.6" height="5.6" fill="rgb(76,170,76)"/>
<rect x="474.52" y="605" width="5.6" height="5.6" fill="rgb(76,170,76)"/>
<rect x="486.61" y="605" width="5.6" height="5.6" fill="rgb(76,170,76)"/>
<g opacity="0.78">
<circle cx="404.79" cy="600.1" r="4" fill="rgb(250,118,106)"/>
<circle cx="416.88" cy="607.8" r="4" fill="rgb(250,118,106)"/>
<circle cx="428.97" cy="607.8" r="4" fill="rgb(250,118,106)"/>
<circle cx="441.06" cy="607.8" r="4" fill="rgb(250,118,106)"/>
<circle cx="453.14" cy="607.8" r="4" fill="rgb(250,118,106)"/>
<circle cx="465.23" cy="607.8" r="4" fill="rgb(250,118,106)"/>
<circle cx="477.32" cy="607.8" r="4" fill="rgb(250,118,106)"/>
<circle cx="489.41" cy="607.8" r="4" fill="rgb(250,118,106)"/>
</g>
<text x="502.8" y="604.3" font-size="12.5" text-anchor="start" fill="rgb(40,155,40)" stroke="rgb(40,155,40)" stroke-width="0.3">89°</text>
<text x="502.8" y="621" font-size="12.5" text-anchor="start" fill="rgb(248,138,125)" stroke="rgb(248,138,125)" stroke-width="0.3">89°</text>
<text x="447.1" y="672.5" font-size="15.4" text-anchor="middle" fill="#000" stroke="#000" stroke-width="0.3">Number of iterations</text>
<text x="362.9" y="395" font-size="15.4" text-anchor="middle" fill="#000" stroke="#000" stroke-width="0.3" transform="rotate(-90 362.9 395)">Preset and inverted dip angles in iterations (°)</text>
<text x="555.6" y="145.6" font-size="12.6" text-anchor="start" fill="#640020" font-weight="bold" stroke="#640020" stroke-width="0.2">S8</text>
<path d="M580.18 202.6V198.6M580.18 148.6V152.6M604.36 202.6V198.6M604.36 148.6V152.6M628.53 202.6V198.6M628.53 148.6V152.6M652.71 202.6V198.6M652.71 148.6V152.6M556 193.6H560M664.8 193.6H660.8M556 171.1H560M664.8 171.1H660.8" stroke="#262626" stroke-width="1.25" fill="none"/>
<rect x="556" y="148.6" width="108.8" height="54" stroke="#262626" stroke-width="1.25" fill="none"/>
<text x="550.5" y="198.8" font-size="12.5" text-anchor="end" fill="#262626" stroke="#262626" stroke-width="0.3">90</text>
<text x="550.5" y="176.3" font-size="12.5" text-anchor="end" fill="#262626" stroke="#262626" stroke-width="0.3">95</text>
<text x="550.5" y="153.8" font-size="12.5" text-anchor="end" fill="#262626" stroke="#262626" stroke-width="0.3">100</text>
<polyline points="568.09,162.1 580.18,162.1 592.27,162.1 604.36,157.6 616.44,157.6 628.53,162.1 640.62,162.1 652.71,162.1" stroke="rgb(250,118,106)" stroke-width="1.5" fill="none" stroke-linejoin="round" opacity="0.78"/>
<polyline points="568.09,193.6 580.18,162.1 592.27,162.1 604.36,162.1 616.44,157.6 628.53,157.6 640.62,162.1 652.71,162.1" stroke="rgb(40,150,40)" stroke-width="1.5" fill="none" stroke-linejoin="round"/>
<rect x="565.29" y="190.8" width="5.6" height="5.6" fill="rgb(76,170,76)"/>
<rect x="577.38" y="159.3" width="5.6" height="5.6" fill="rgb(76,170,76)"/>
<rect x="589.47" y="159.3" width="5.6" height="5.6" fill="rgb(76,170,76)"/>
<rect x="601.56" y="159.3" width="5.6" height="5.6" fill="rgb(76,170,76)"/>
<rect x="613.64" y="154.8" width="5.6" height="5.6" fill="rgb(76,170,76)"/>
<rect x="625.73" y="154.8" width="5.6" height="5.6" fill="rgb(76,170,76)"/>
<rect x="637.82" y="159.3" width="5.6" height="5.6" fill="rgb(76,170,76)"/>
<rect x="649.91" y="159.3" width="5.6" height="5.6" fill="rgb(76,170,76)"/>
<g opacity="0.78">
<circle cx="568.09" cy="162.1" r="4" fill="rgb(250,118,106)"/>
<circle cx="580.18" cy="162.1" r="4" fill="rgb(250,118,106)"/>
<circle cx="592.27" cy="162.1" r="4" fill="rgb(250,118,106)"/>
<circle cx="604.36" cy="157.6" r="4" fill="rgb(250,118,106)"/>
<circle cx="616.44" cy="157.6" r="4" fill="rgb(250,118,106)"/>
<circle cx="628.53" cy="162.1" r="4" fill="rgb(250,118,106)"/>
<circle cx="640.62" cy="162.1" r="4" fill="rgb(250,118,106)"/>
<circle cx="652.71" cy="162.1" r="4" fill="rgb(250,118,106)"/>
</g>
<text x="666.1" y="159.4" font-size="12.5" text-anchor="start" fill="rgb(40,155,40)" stroke="rgb(40,155,40)" stroke-width="0.3">97°</text>
<text x="666.1" y="173.2" font-size="12.5" text-anchor="start" fill="rgb(248,138,125)" stroke="rgb(248,138,125)" stroke-width="0.3">97°</text>
<text x="555.6" y="218" font-size="12.6" text-anchor="start" fill="#640020" font-weight="bold" stroke="#640020" stroke-width="0.2">S9</text>
<path d="M580.18 275.2V271.2M580.18 221V225M604.36 275.2V271.2M604.36 221V225M628.53 275.2V271.2M628.53 221V225M652.71 275.2V271.2M652.71 221V225M556 254.35H560M664.8 254.35H660.8M556 233.51H560M664.8 233.51H660.8" stroke="#262626" stroke-width="1.25" fill="none"/>
<rect x="556" y="221" width="108.8" height="54.2" stroke="#262626" stroke-width="1.25" fill="none"/>
<text x="550.5" y="280.4" font-size="12.5" text-anchor="end" fill="#262626" stroke="#262626" stroke-width="0.3">80</text>
<text x="550.5" y="259.55" font-size="12.5" text-anchor="end" fill="#262626" stroke="#262626" stroke-width="0.3">85</text>
<text x="550.5" y="238.71" font-size="12.5" text-anchor="end" fill="#262626" stroke="#262626" stroke-width="0.3">90</text>
<polyline points="568.09,254.35 580.18,254.35 592.27,254.35 604.36,258.52 616.44,254.35 628.53,258.52 640.62,254.35 652.71,258.52" stroke="rgb(250,118,106)" stroke-width="1.5" fill="none" stroke-linejoin="round" opacity="0.78"/>
<polyline points="568.09,233.51 580.18,254.35 592.27,254.35 604.36,254.35 616.44,258.52 628.53,254.35 640.62,258.52 652.71,254.35" stroke="rgb(40,150,40)" stroke-width="1.5" fill="none" stroke-linejoin="round"/>
<rect x="565.29" y="230.71" width="5.6" height="5.6" fill="rgb(76,170,76)"/>
<rect x="577.38" y="251.55" width="5.6" height="5.6" fill="rgb(76,170,76)"/>
<rect x="589.47" y="251.55" width="5.6" height="5.6" fill="rgb(76,170,76)"/>
<rect x="601.56" y="251.55" width="5.6" height="5.6" fill="rgb(76,170,76)"/>
<rect x="613.64" y="255.72" width="5.6" height="5.6" fill="rgb(76,170,76)"/>
<rect x="625.73" y="251.55" width="5.6" height="5.6" fill="rgb(76,170,76)"/>
<rect x="637.82" y="255.72" width="5.6" height="5.6" fill="rgb(76,170,76)"/>
<rect x="649.91" y="251.55" width="5.6" height="5.6" fill="rgb(76,170,76)"/>
<g opacity="0.78">
<circle cx="568.09" cy="254.35" r="4" fill="rgb(250,118,106)"/>
<circle cx="580.18" cy="254.35" r="4" fill="rgb(250,118,106)"/>
<circle cx="592.27" cy="254.35" r="4" fill="rgb(250,118,106)"/>
<circle cx="604.36" cy="258.52" r="4" fill="rgb(250,118,106)"/>
<circle cx="616.44" cy="254.35" r="4" fill="rgb(250,118,106)"/>
<circle cx="628.53" cy="258.52" r="4" fill="rgb(250,118,106)"/>
<circle cx="640.62" cy="254.35" r="4" fill="rgb(250,118,106)"/>
<circle cx="652.71" cy="258.52" r="4" fill="rgb(250,118,106)"/>
</g>
<text x="666.1" y="252.8" font-size="12.5" text-anchor="start" fill="rgb(40,155,40)" stroke="rgb(40,155,40)" stroke-width="0.3">85°</text>
<text x="666.1" y="265.3" font-size="12.5" text-anchor="start" fill="rgb(248,138,125)" stroke="rgb(248,138,125)" stroke-width="0.3">84°</text>
<text x="555.6" y="290.7" font-size="12.6" text-anchor="start" fill="#0a3cc6" font-weight="bold" stroke="#0a3cc6" stroke-width="0.2">S10</text>
<path d="M580.18 348.3V344.3M580.18 293.7V297.7M604.36 348.3V344.3M604.36 293.7V297.7M628.53 348.3V344.3M628.53 293.7V297.7M652.71 348.3V344.3M652.71 293.7V297.7M556 328.45H560M664.8 328.45H660.8M556 308.59H560M664.8 308.59H660.8" stroke="#262626" stroke-width="1.25" fill="none"/>
<rect x="556" y="293.7" width="108.8" height="54.6" stroke="#262626" stroke-width="1.25" fill="none"/>
<text x="550.5" y="353.5" font-size="12.5" text-anchor="end" fill="#262626" stroke="#262626" stroke-width="0.3">40</text>
<text x="550.5" y="333.65" font-size="12.5" text-anchor="end" fill="#262626" stroke="#262626" stroke-width="0.3">60</text>
<text x="550.5" y="313.79" font-size="12.5" text-anchor="end" fill="#262626" stroke="#262626" stroke-width="0.3">80</text>
<polyline points="568.09,333.41 580.18,335.39 592.27,336.39 604.36,336.39 616.44,336.39 628.53,336.39 640.62,336.39 652.71,336.39" stroke="rgb(250,118,106)" stroke-width="1.5" fill="none" stroke-linejoin="round" opacity="0.78"/>
<polyline points="568.09,298.66 580.18,334.4 592.27,336.39 604.36,336.39 616.44,336.39 628.53,336.39 640.62,336.39 652.71,336.39" stroke="rgb(40,150,40)" stroke-width="1.5" fill="none" stroke-linejoin="round"/>
<rect x="565.29" y="295.86" width="5.6" height="5.6" fill="rgb(76,170,76)"/>
<rect x="577.38" y="331.6" width="5.6" height="5.6" fill="rgb(76,170,76)"/>
<rect x="589.47" y="333.59" width="5.6" height="5.6" fill="rgb(76,170,76)"/>
<rect x="601.56" y="333.59" width="5.6" height="5.6" fill="rgb(76,170,76)"/>
<rect x="613.64" y="333.59" width="5.6" height="5.6" fill="rgb(76,170,76)"/>
<rect x="625.73" y="333.59" width="5.6" height="5.6" fill="rgb(76,170,76)"/>
<rect x="637.82" y="333.59" width="5.6" height="5.6" fill="rgb(76,170,76)"/>
<rect x="649.91" y="333.59" width="5.6" height="5.6" fill="rgb(76,170,76)"/>
<g opacity="0.78">
<circle cx="568.09" cy="333.41" r="4" fill="rgb(250,118,106)"/>
<circle cx="580.18" cy="335.39" r="4" fill="rgb(250,118,106)"/>
<circle cx="592.27" cy="336.39" r="4" fill="rgb(250,118,106)"/>
<circle cx="604.36" cy="336.39" r="4" fill="rgb(250,118,106)"/>
<circle cx="616.44" cy="336.39" r="4" fill="rgb(250,118,106)"/>
<circle cx="628.53" cy="336.39" r="4" fill="rgb(250,118,106)"/>
<circle cx="640.62" cy="336.39" r="4" fill="rgb(250,118,106)"/>
<circle cx="652.71" cy="336.39" r="4" fill="rgb(250,118,106)"/>
</g>
<text x="666.1" y="336.8" font-size="12.5" text-anchor="start" fill="rgb(40,155,40)" stroke="rgb(40,155,40)" stroke-width="0.3">52°</text>
<text x="666.1" y="345.1" font-size="12.5" text-anchor="start" fill="rgb(248,138,125)" stroke="rgb(248,138,125)" stroke-width="0.3">52°</text>
<text x="555.6" y="363.5" font-size="12.6" text-anchor="start" fill="#0a3cc6" font-weight="bold" stroke="#0a3cc6" stroke-width="0.2">S11</text>
<path d="M580.18 420.7V416.7M580.18 366.5V370.5M604.36 420.7V416.7M604.36 366.5V370.5M628.53 420.7V416.7M628.53 366.5V370.5M652.71 420.7V416.7M652.71 366.5V370.5M556 398.12H560M664.8 398.12H660.8M556 375.53H560M664.8 375.53H660.8" stroke="#262626" stroke-width="1.25" fill="none"/>
<rect x="556" y="366.5" width="108.8" height="54.2" stroke="#262626" stroke-width="1.25" fill="none"/>
<text x="550.5" y="425.9" font-size="12.5" text-anchor="end" fill="#262626" stroke="#262626" stroke-width="0.3">80</text>
<text x="550.5" y="403.32" font-size="12.5" text-anchor="end" fill="#262626" stroke="#262626" stroke-width="0.3">85</text>
<text x="550.5" y="380.73" font-size="12.5" text-anchor="end" fill="#262626" stroke="#262626" stroke-width="0.3">90</text>
<polyline points="568.09,402.63 580.18,389.08 592.27,398.12 604.36,393.6 616.44,393.6 628.53,393.6 640.62,393.6 652.71,393.6" stroke="rgb(250,118,106)" stroke-width="1.5" fill="none" stroke-linejoin="round" opacity="0.78"/>
<polyline points="568.09,375.53 580.18,402.63 592.27,389.08 604.36,398.12 616.44,393.6 628.53,393.6 640.62,393.6 652.71,393.6" stroke="rgb(40,150,40)" stroke-width="1.5" fill="none" stroke-linejoin="round"/>
<rect x="565.29" y="372.73" width="5.6" height="5.6" fill="rgb(76,170,76)"/>
<rect x="577.38" y="399.83" width="5.6" height="5.6" fill="rgb(76,170,76)"/>
<rect x="589.47" y="386.28" width="5.6" height="5.6" fill="rgb(76,170,76)"/>
<rect x="601.56" y="395.32" width="5.6" height="5.6" fill="rgb(76,170,76)"/>
<rect x="613.64" y="390.8" width="5.6" height="5.6" fill="rgb(76,170,76)"/>
<rect x="625.73" y="390.8" width="5.6" height="5.6" fill="rgb(76,170,76)"/>
<rect x="637.82" y="390.8" width="5.6" height="5.6" fill="rgb(76,170,76)"/>
<rect x="649.91" y="390.8" width="5.6" height="5.6" fill="rgb(76,170,76)"/>
<g opacity="0.78">
<circle cx="568.09" cy="402.63" r="4" fill="rgb(250,118,106)"/>
<circle cx="580.18" cy="389.08" r="4" fill="rgb(250,118,106)"/>
<circle cx="592.27" cy="398.12" r="4" fill="rgb(250,118,106)"/>
<circle cx="604.36" cy="393.6" r="4" fill="rgb(250,118,106)"/>
<circle cx="616.44" cy="393.6" r="4" fill="rgb(250,118,106)"/>
<circle cx="628.53" cy="393.6" r="4" fill="rgb(250,118,106)"/>
<circle cx="640.62" cy="393.6" r="4" fill="rgb(250,118,106)"/>
<circle cx="652.71" cy="393.6" r="4" fill="rgb(250,118,106)"/>
</g>
<text x="666.1" y="393.7" font-size="12.5" text-anchor="start" fill="rgb(40,155,40)" stroke="rgb(40,155,40)" stroke-width="0.3">86°</text>
<text x="666.1" y="402.6" font-size="12.5" text-anchor="start" fill="rgb(248,138,125)" stroke="rgb(248,138,125)" stroke-width="0.3">86°</text>
<text x="555.6" y="435.9" font-size="12.6" text-anchor="start" fill="#0a3cc6" font-weight="bold" stroke="#0a3cc6" stroke-width="0.2">S12</text>
<path d="M580.18 493V489M580.18 438.9V442.9M604.36 493V489M604.36 438.9V442.9M628.53 493V489M628.53 438.9V442.9M652.71 493V489M652.71 438.9V442.9M556 467.24H560M664.8 467.24H660.8M556 441.48H560M664.8 441.48H660.8" stroke="#262626" stroke-width="1.25" fill="none"/>
<rect x="556" y="438.9" width="108.8" height="54.1" stroke="#262626" stroke-width="1.25" fill="none"/>
<text x="550.5" y="498.2" font-size="12.5" text-anchor="end" fill="#262626" stroke="#262626" stroke-width="0.3">70</text>
<text x="550.5" y="472.44" font-size="12.5" text-anchor="end" fill="#262626" stroke="#262626" stroke-width="0.3">80</text>
<text x="550.5" y="446.68" font-size="12.5" text-anchor="end" fill="#262626" stroke="#262626" stroke-width="0.3">90</text>
<polyline points="568.09,480.12 580.18,482.7 592.27,482.7 604.36,482.7 616.44,482.7 628.53,482.7 640.62,482.7 652.71,482.7" stroke="rgb(250,118,106)" stroke-width="1.5" fill="none" stroke-linejoin="round" opacity="0.78"/>
<polyline points="568.09,441.48 580.18,480.12 592.27,482.7 604.36,482.7 616.44,482.7 628.53,482.7 640.62,482.7 652.71,482.7" stroke="rgb(40,150,40)" stroke-width="1.5" fill="none" stroke-linejoin="round"/>
<rect x="565.29" y="438.68" width="5.6" height="5.6" fill="rgb(76,170,76)"/>
<rect x="577.38" y="477.32" width="5.6" height="5.6" fill="rgb(76,170,76)"/>
<rect x="589.47" y="479.9" width="5.6" height="5.6" fill="rgb(76,170,76)"/>
<rect x="601.56" y="479.9" width="5.6" height="5.6" fill="rgb(76,170,76)"/>
<rect x="613.64" y="479.9" width="5.6" height="5.6" fill="rgb(76,170,76)"/>
<rect x="625.73" y="479.9" width="5.6" height="5.6" fill="rgb(76,170,76)"/>
<rect x="637.82" y="479.9" width="5.6" height="5.6" fill="rgb(76,170,76)"/>
<rect x="649.91" y="479.9" width="5.6" height="5.6" fill="rgb(76,170,76)"/>
<g opacity="0.78">
<circle cx="568.09" cy="480.12" r="4" fill="rgb(250,118,106)"/>
<circle cx="580.18" cy="482.7" r="4" fill="rgb(250,118,106)"/>
<circle cx="592.27" cy="482.7" r="4" fill="rgb(250,118,106)"/>
<circle cx="604.36" cy="482.7" r="4" fill="rgb(250,118,106)"/>
<circle cx="616.44" cy="482.7" r="4" fill="rgb(250,118,106)"/>
<circle cx="628.53" cy="482.7" r="4" fill="rgb(250,118,106)"/>
<circle cx="640.62" cy="482.7" r="4" fill="rgb(250,118,106)"/>
<circle cx="652.71" cy="482.7" r="4" fill="rgb(250,118,106)"/>
</g>
<text x="666.1" y="479.9" font-size="12.5" text-anchor="start" fill="rgb(40,155,40)" stroke="rgb(40,155,40)" stroke-width="0.3">74°</text>
<text x="666.1" y="495.1" font-size="12.5" text-anchor="start" fill="rgb(248,138,125)" stroke="rgb(248,138,125)" stroke-width="0.3">74°</text>
<text x="555.6" y="508.5" font-size="12.6" text-anchor="start" fill="#0a3cc6" font-weight="bold" stroke="#0a3cc6" stroke-width="0.2">S13</text>
<path d="M580.18 565.7V561.7M580.18 511.5V515.5M604.36 565.7V561.7M604.36 511.5V515.5M628.53 565.7V561.7M628.53 511.5V515.5M652.71 565.7V561.7M652.71 511.5V515.5M556 560.28H560M664.8 560.28H660.8M556 538.6H560M664.8 538.6H660.8M556 516.92H560M664.8 516.92H660.8" stroke="#262626" stroke-width="1.25" fill="none"/>
<rect x="556" y="511.5" width="108.8" height="54.2" stroke="#262626" stroke-width="1.25" fill="none"/>
<text x="550.5" y="565.48" font-size="12.5" text-anchor="end" fill="#262626" stroke="#262626" stroke-width="0.3">50</text>
<text x="550.5" y="543.8" font-size="12.5" text-anchor="end" fill="#262626" stroke="#262626" stroke-width="0.3">70</text>
<text x="550.5" y="522.12" font-size="12.5" text-anchor="end" fill="#262626" stroke="#262626" stroke-width="0.3">90</text>
<text x="556" y="583.8" font-size="12.5" text-anchor="middle" fill="#262626" stroke="#262626" stroke-width="0.3">0</text>
<text x="580.18" y="583.8" font-size="12.5" text-anchor="middle" fill="#262626" stroke="#262626" stroke-width="0.3">2</text>
<text x="604.36" y="583.8" font-size="12.5" text-anchor="middle" fill="#262626" stroke="#262626" stroke-width="0.3">4</text>
<text x="628.53" y="583.8" font-size="12.5" text-anchor="middle" fill="#262626" stroke="#262626" stroke-width="0.3">6</text>
<text x="652.71" y="583.8" font-size="12.5" text-anchor="middle" fill="#262626" stroke="#262626" stroke-width="0.3">8</text>
<polyline points="568.09,555.94 580.18,560.28 592.27,560.28 604.36,560.28 616.44,560.28 628.53,560.28 640.62,560.28 652.71,560.28" stroke="rgb(250,118,106)" stroke-width="1.5" fill="none" stroke-linejoin="round" opacity="0.78"/>
<polyline points="568.09,516.92 580.18,555.94 592.27,560.28 604.36,560.28 616.44,560.28 628.53,560.28 640.62,560.28 652.71,560.28" stroke="rgb(40,150,40)" stroke-width="1.5" fill="none" stroke-linejoin="round"/>
<rect x="565.29" y="514.12" width="5.6" height="5.6" fill="rgb(76,170,76)"/>
<rect x="577.38" y="553.14" width="5.6" height="5.6" fill="rgb(76,170,76)"/>
<rect x="589.47" y="557.48" width="5.6" height="5.6" fill="rgb(76,170,76)"/>
<rect x="601.56" y="557.48" width="5.6" height="5.6" fill="rgb(76,170,76)"/>
<rect x="613.64" y="557.48" width="5.6" height="5.6" fill="rgb(76,170,76)"/>
<rect x="625.73" y="557.48" width="5.6" height="5.6" fill="rgb(76,170,76)"/>
<rect x="637.82" y="557.48" width="5.6" height="5.6" fill="rgb(76,170,76)"/>
<rect x="649.91" y="557.48" width="5.6" height="5.6" fill="rgb(76,170,76)"/>
<g opacity="0.78">
<circle cx="568.09" cy="555.94" r="4" fill="rgb(250,118,106)"/>
<circle cx="580.18" cy="560.28" r="4" fill="rgb(250,118,106)"/>
<circle cx="592.27" cy="560.28" r="4" fill="rgb(250,118,106)"/>
<circle cx="604.36" cy="560.28" r="4" fill="rgb(250,118,106)"/>
<circle cx="616.44" cy="560.28" r="4" fill="rgb(250,118,106)"/>
<circle cx="628.53" cy="560.28" r="4" fill="rgb(250,118,106)"/>
<circle cx="640.62" cy="560.28" r="4" fill="rgb(250,118,106)"/>
<circle cx="652.71" cy="560.28" r="4" fill="rgb(250,118,106)"/>
</g>
<text x="666.1" y="560.3" font-size="12.5" text-anchor="start" fill="rgb(40,155,40)" stroke="rgb(40,155,40)" stroke-width="0.3">50°</text>
<text x="666.1" y="569.2" font-size="12.5" text-anchor="start" fill="rgb(248,138,125)" stroke="rgb(248,138,125)" stroke-width="0.3">50°</text>
<text x="610.4" y="603" font-size="15.4" text-anchor="middle" fill="#000" stroke="#000" stroke-width="0.3">Number of iterations</text>
<g opacity="0.78"><line x1="536.2" y1="626.4" x2="553.8" y2="626.4" stroke="rgb(250,118,106)" stroke-width="1.5"/>
<circle cx="545.0" cy="626.4" r="4.0" fill="rgb(250,118,106)"/></g>
<line x1="536.2" y1="648.6" x2="553.0" y2="648.6" stroke="rgb(40,150,40)" stroke-width="1.5"/>
<rect x="542.4" y="645.6" width="6" height="6" fill="rgb(76,170,76)"/>
<text x="562.4" y="630.4" font-size="12.6" text-anchor="start" fill="#000" stroke="#000" stroke-width="0.3">Inverted dip angle</text>
<text x="562.4" y="652.5" font-size="12.6" text-anchor="start" fill="#000" stroke="#000" stroke-width="0.3">Preset dip angle</text>
</svg></body></html>
